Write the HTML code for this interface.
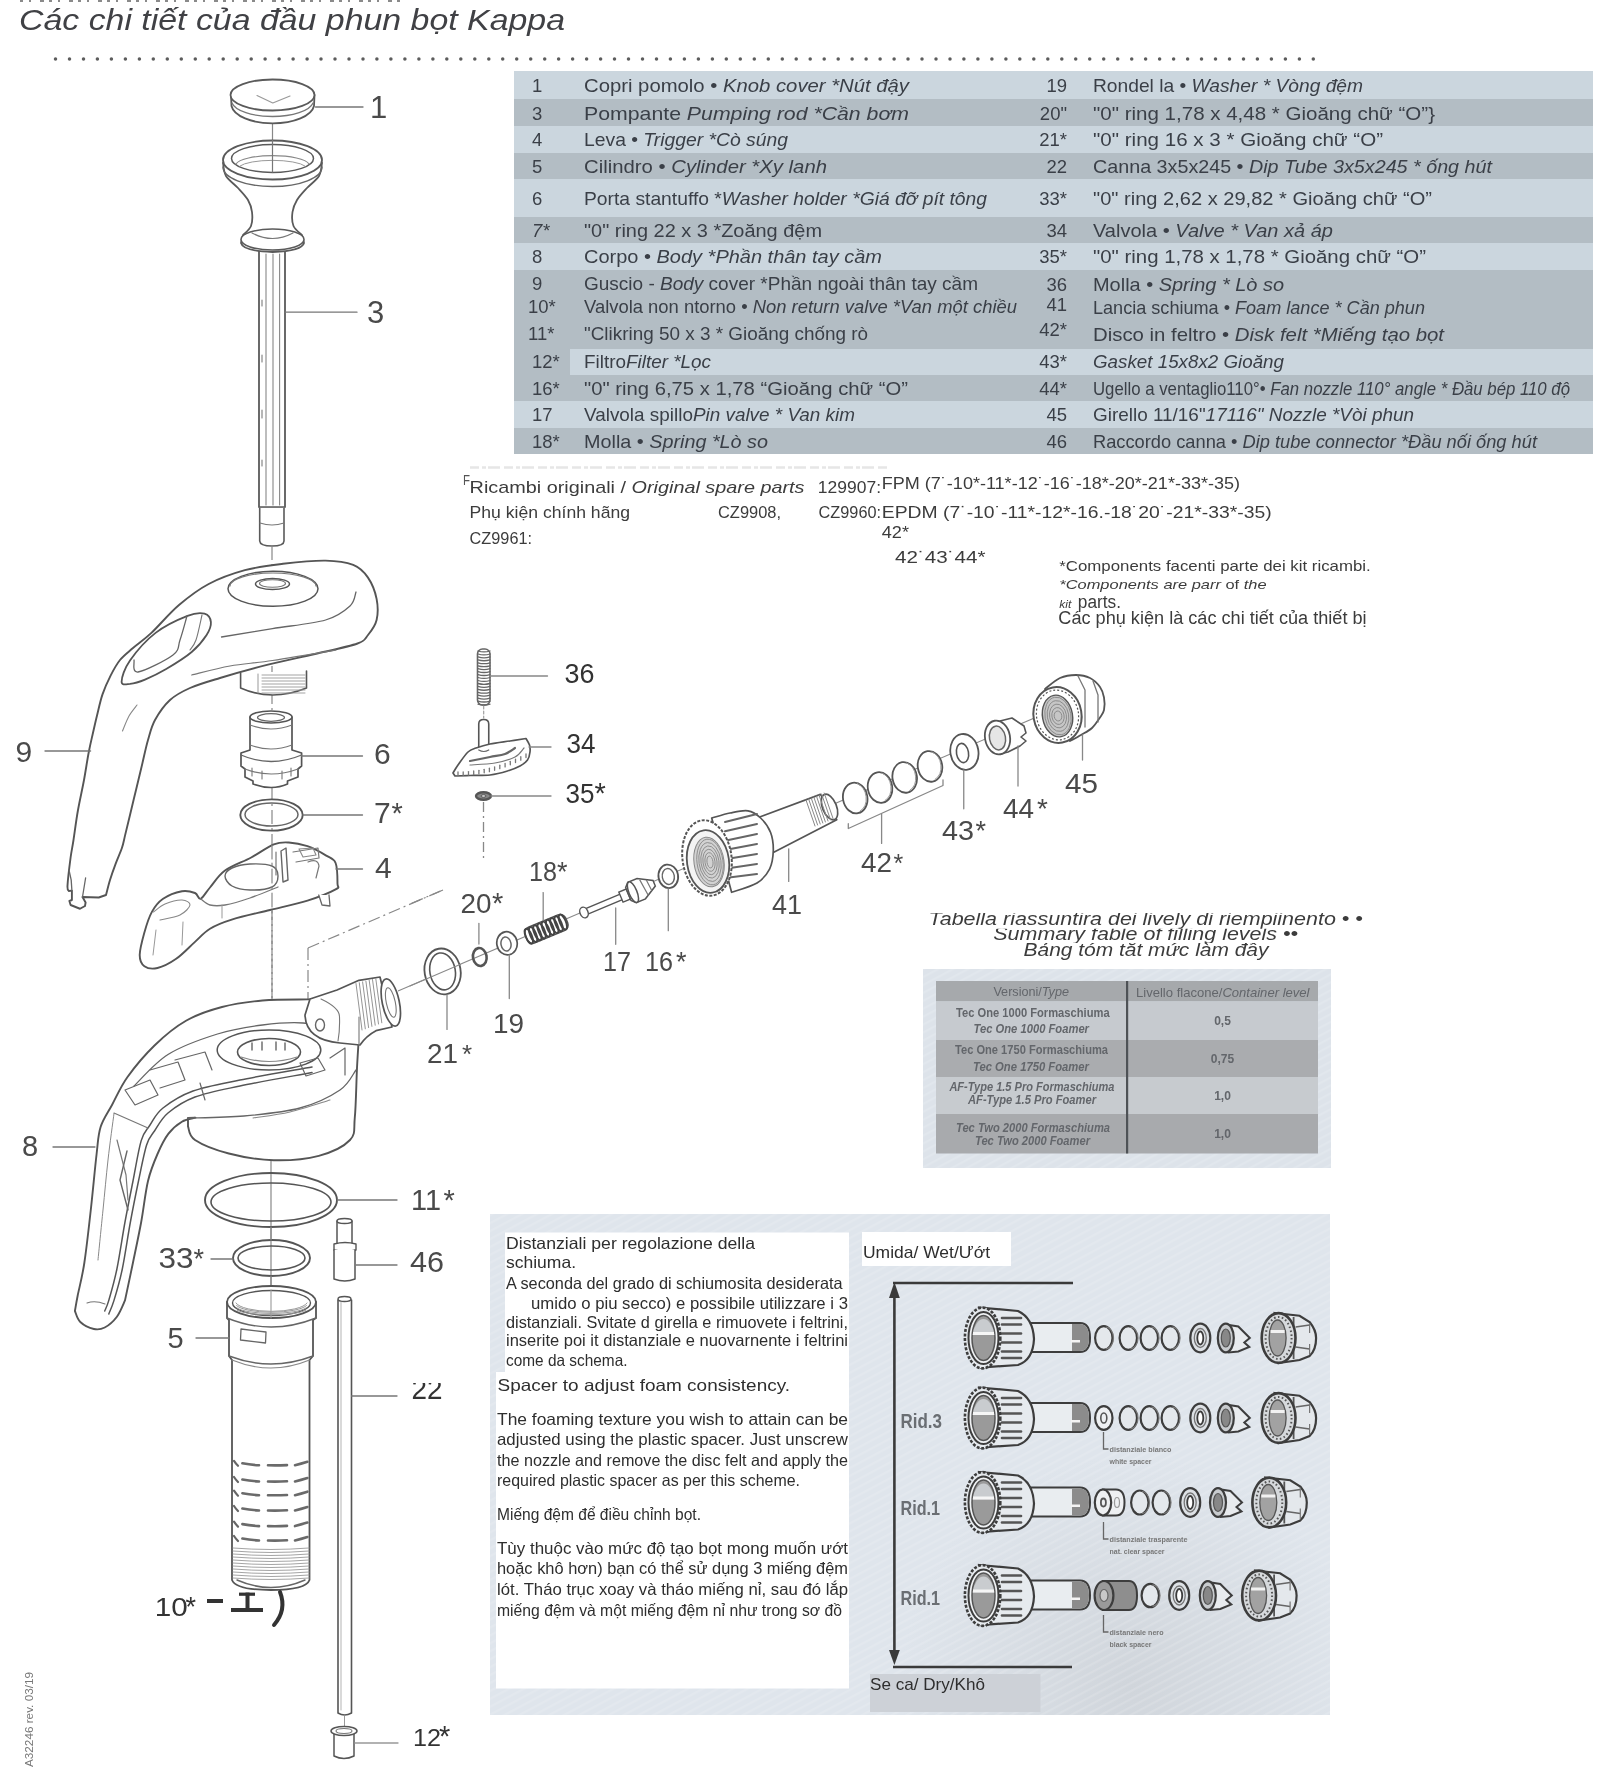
<!DOCTYPE html>
<html><head><meta charset="utf-8"><title>Kappa foam sprayer parts</title>
<style>
html,body{margin:0;padding:0;background:#fff;}
body{width:1600px;height:1772px;overflow:hidden;position:relative;font-family:"Liberation Sans", sans-serif;}
svg{position:absolute;left:0;top:0;will-change:transform;}
svg text{font-family:"Liberation Sans", sans-serif;}
</style></head><body>
<svg width="1600" height="1772" viewBox="0 0 1600 1772">
<text x="19.0" y="29.5" font-size="29.0" fill="#404145" textLength="546.0" lengthAdjust="spacingAndGlyphs"><tspan font-style="italic">Các chi tiết của đầu phun bọt Kappa</tspan></text>
<path d="M20 1 H406" stroke="#8a8a8a" stroke-width="2" stroke-dasharray="3 6 2 9 4 5"/>
<g fill="#5c5c5c"><circle cx="55.5" cy="59" r="1.75"/><circle cx="69.5" cy="59" r="1.75"/><circle cx="83.5" cy="59" r="1.75"/><circle cx="97.4" cy="59" r="1.75"/><circle cx="111.4" cy="59" r="1.75"/><circle cx="125.4" cy="59" r="1.75"/><circle cx="139.4" cy="59" r="1.75"/><circle cx="153.3" cy="59" r="1.75"/><circle cx="167.3" cy="59" r="1.75"/><circle cx="181.3" cy="59" r="1.75"/><circle cx="195.3" cy="59" r="1.75"/><circle cx="209.2" cy="59" r="1.75"/><circle cx="223.2" cy="59" r="1.75"/><circle cx="237.2" cy="59" r="1.75"/><circle cx="251.2" cy="59" r="1.75"/><circle cx="265.1" cy="59" r="1.75"/><circle cx="279.1" cy="59" r="1.75"/><circle cx="293.1" cy="59" r="1.75"/><circle cx="307.1" cy="59" r="1.75"/><circle cx="321.0" cy="59" r="1.75"/><circle cx="335.0" cy="59" r="1.75"/><circle cx="349.0" cy="59" r="1.75"/><circle cx="363.0" cy="59" r="1.75"/><circle cx="376.9" cy="59" r="1.75"/><circle cx="390.9" cy="59" r="1.75"/><circle cx="404.9" cy="59" r="1.75"/><circle cx="418.9" cy="59" r="1.75"/><circle cx="432.9" cy="59" r="1.75"/><circle cx="446.8" cy="59" r="1.75"/><circle cx="460.8" cy="59" r="1.75"/><circle cx="474.8" cy="59" r="1.75"/><circle cx="488.8" cy="59" r="1.75"/><circle cx="502.7" cy="59" r="1.75"/><circle cx="516.7" cy="59" r="1.75"/><circle cx="530.7" cy="59" r="1.75"/><circle cx="544.7" cy="59" r="1.75"/><circle cx="558.6" cy="59" r="1.75"/><circle cx="572.6" cy="59" r="1.75"/><circle cx="586.6" cy="59" r="1.75"/><circle cx="600.6" cy="59" r="1.75"/><circle cx="614.5" cy="59" r="1.75"/><circle cx="628.5" cy="59" r="1.75"/><circle cx="642.5" cy="59" r="1.75"/><circle cx="656.5" cy="59" r="1.75"/><circle cx="670.4" cy="59" r="1.75"/><circle cx="684.4" cy="59" r="1.75"/><circle cx="698.4" cy="59" r="1.75"/><circle cx="712.4" cy="59" r="1.75"/><circle cx="726.3" cy="59" r="1.75"/><circle cx="740.3" cy="59" r="1.75"/><circle cx="754.3" cy="59" r="1.75"/><circle cx="768.3" cy="59" r="1.75"/><circle cx="782.3" cy="59" r="1.75"/><circle cx="796.2" cy="59" r="1.75"/><circle cx="810.2" cy="59" r="1.75"/><circle cx="824.2" cy="59" r="1.75"/><circle cx="838.2" cy="59" r="1.75"/><circle cx="852.1" cy="59" r="1.75"/><circle cx="866.1" cy="59" r="1.75"/><circle cx="880.1" cy="59" r="1.75"/><circle cx="894.1" cy="59" r="1.75"/><circle cx="908.0" cy="59" r="1.75"/><circle cx="922.0" cy="59" r="1.75"/><circle cx="936.0" cy="59" r="1.75"/><circle cx="950.0" cy="59" r="1.75"/><circle cx="963.9" cy="59" r="1.75"/><circle cx="977.9" cy="59" r="1.75"/><circle cx="991.9" cy="59" r="1.75"/><circle cx="1005.9" cy="59" r="1.75"/><circle cx="1019.8" cy="59" r="1.75"/><circle cx="1033.8" cy="59" r="1.75"/><circle cx="1047.8" cy="59" r="1.75"/><circle cx="1061.8" cy="59" r="1.75"/><circle cx="1075.7" cy="59" r="1.75"/><circle cx="1089.7" cy="59" r="1.75"/><circle cx="1103.7" cy="59" r="1.75"/><circle cx="1117.7" cy="59" r="1.75"/><circle cx="1131.7" cy="59" r="1.75"/><circle cx="1145.6" cy="59" r="1.75"/><circle cx="1159.6" cy="59" r="1.75"/><circle cx="1173.6" cy="59" r="1.75"/><circle cx="1187.6" cy="59" r="1.75"/><circle cx="1201.5" cy="59" r="1.75"/><circle cx="1215.5" cy="59" r="1.75"/><circle cx="1229.5" cy="59" r="1.75"/><circle cx="1243.5" cy="59" r="1.75"/><circle cx="1257.4" cy="59" r="1.75"/><circle cx="1271.4" cy="59" r="1.75"/><circle cx="1285.4" cy="59" r="1.75"/><circle cx="1299.4" cy="59" r="1.75"/><circle cx="1313.3" cy="59" r="1.75"/></g>
<rect x="514" y="71" width="1079" height="28" fill="#cbd6de"/>
<rect x="514" y="99" width="1079" height="27" fill="#b3bdc4"/>
<rect x="514" y="126" width="1079" height="27" fill="#cbd6de"/>
<rect x="514" y="153" width="1079" height="26" fill="#b3bdc4"/>
<rect x="514" y="179" width="1079" height="38" fill="#cbd6de"/>
<rect x="514" y="217" width="1079" height="26" fill="#b3bdc4"/>
<rect x="514" y="243" width="1079" height="27" fill="#cbd6de"/>
<rect x="514" y="270" width="1079" height="79" fill="#b3bdc4"/>
<rect x="514" y="349" width="1079" height="26" fill="#cbd6de"/>
<rect x="514" y="375" width="1079" height="26" fill="#b3bdc4"/>
<rect x="514" y="401" width="1079" height="27" fill="#cbd6de"/>
<rect x="514" y="428" width="1079" height="26" fill="#b3bdc4"/>
<rect x="514" y="349" width="56" height="26" fill="#b3bdc4"/>
<text x="532.0" y="92.0" font-size="18.5" fill="#3a3f47">1</text>
<text x="584.0" y="92.0" font-size="18.5" fill="#3a3f47" textLength="325.0" lengthAdjust="spacingAndGlyphs">Copri pomolo • <tspan font-style="italic">Knob cover *Nút đậy</tspan></text>
<text x="532.0" y="119.5" font-size="18.5" fill="#3a3f47">3</text>
<text x="584.0" y="119.5" font-size="18.5" fill="#3a3f47" textLength="325.0" lengthAdjust="spacingAndGlyphs">Pompante <tspan font-style="italic">Pumping rod *Cần bơm</tspan></text>
<text x="532.0" y="146.0" font-size="18.5" fill="#3a3f47">4</text>
<text x="584.0" y="146.0" font-size="18.5" fill="#3a3f47" textLength="204.0" lengthAdjust="spacingAndGlyphs">Leva • <tspan font-style="italic">Trigger *Cò súng</tspan></text>
<text x="532.0" y="172.5" font-size="18.5" fill="#3a3f47">5</text>
<text x="584.0" y="172.5" font-size="18.5" fill="#3a3f47" textLength="243.0" lengthAdjust="spacingAndGlyphs">Cilindro • <tspan font-style="italic">Cylinder *Xy lanh</tspan></text>
<text x="532.0" y="205.0" font-size="18.5" fill="#3a3f47">6</text>
<text x="584.0" y="205.0" font-size="18.5" fill="#3a3f47" textLength="403.0" lengthAdjust="spacingAndGlyphs">Porta stantuffo *<tspan font-style="italic">Washer holder *Giá đỡ pít tông</tspan></text>
<text x="532.0" y="236.6" font-size="18.5" fill="#3a3f47"><tspan font-style="italic">7*</tspan></text>
<text x="584.0" y="236.6" font-size="18.5" fill="#3a3f47" textLength="238.0" lengthAdjust="spacingAndGlyphs">"0" ring 22 x 3 *Zoăng đệm</text>
<text x="532.0" y="263.3" font-size="18.5" fill="#3a3f47">8</text>
<text x="584.0" y="263.3" font-size="18.5" fill="#3a3f47" textLength="298.0" lengthAdjust="spacingAndGlyphs">Corpo • <tspan font-style="italic">Body *Phần thân tay cầm</tspan></text>
<text x="532.0" y="289.5" font-size="18.5" fill="#3a3f47">9</text>
<text x="584.0" y="289.5" font-size="18.5" fill="#3a3f47" textLength="394.0" lengthAdjust="spacingAndGlyphs">Guscio - <tspan font-style="italic">Body</tspan> cover *Phần ngoài thân tay cầm</text>
<text x="528.0" y="313.0" font-size="18.5" fill="#3a3f47">10*</text>
<text x="584.0" y="313.0" font-size="18.5" fill="#3a3f47" textLength="433.0" lengthAdjust="spacingAndGlyphs">Valvola non ntorno • <tspan font-style="italic">Non return valve *Van một chiều</tspan></text>
<text x="528.0" y="339.5" font-size="18.5" fill="#3a3f47">11*</text>
<text x="584.0" y="339.5" font-size="18.5" fill="#3a3f47" textLength="284.0" lengthAdjust="spacingAndGlyphs">"Clikring 50 x 3 * Gioăng chống rò</text>
<text x="532.0" y="368.0" font-size="18.5" fill="#3a3f47">12*</text>
<text x="584.0" y="368.0" font-size="18.5" fill="#3a3f47" textLength="127.0" lengthAdjust="spacingAndGlyphs">Filtro<tspan font-style="italic">Filter *Lọc</tspan></text>
<text x="532.0" y="395.3" font-size="18.5" fill="#3a3f47">16*</text>
<text x="584.0" y="395.3" font-size="18.5" fill="#3a3f47" textLength="324.0" lengthAdjust="spacingAndGlyphs">"0" ring 6,75 x 1,78 “Gioăng chữ “O”</text>
<text x="532.0" y="421.0" font-size="18.5" fill="#3a3f47">17</text>
<text x="584.0" y="421.0" font-size="18.5" fill="#3a3f47" textLength="271.0" lengthAdjust="spacingAndGlyphs">Valvola spillo<tspan font-style="italic">Pin valve * Van kim</tspan></text>
<text x="532.0" y="448.0" font-size="18.5" fill="#3a3f47">18*</text>
<text x="584.0" y="448.0" font-size="18.5" fill="#3a3f47" textLength="184.0" lengthAdjust="spacingAndGlyphs">Molla • <tspan font-style="italic">Spring *Lò so</tspan></text>
<text x="1067.0" y="92.0" font-size="18.5" fill="#3a3f47" text-anchor="end">19</text>
<text x="1093.0" y="92.0" font-size="18.5" fill="#3a3f47" textLength="270.0" lengthAdjust="spacingAndGlyphs">Rondel la • <tspan font-style="italic">Washer * Vòng đệm</tspan></text>
<text x="1067.0" y="119.5" font-size="18.5" fill="#3a3f47" text-anchor="end">20"</text>
<text x="1093.0" y="119.5" font-size="18.5" fill="#3a3f47" textLength="342.0" lengthAdjust="spacingAndGlyphs">"0" ring 1,78 x 4,48 * Gioăng chữ “O”}</text>
<text x="1067.0" y="146.0" font-size="18.5" fill="#3a3f47" text-anchor="end">21*</text>
<text x="1093.0" y="146.0" font-size="18.5" fill="#3a3f47" textLength="290.0" lengthAdjust="spacingAndGlyphs">"0" ring 16 x 3 * Gioăng chữ “O”</text>
<text x="1067.0" y="172.5" font-size="18.5" fill="#3a3f47" text-anchor="end">22</text>
<text x="1093.0" y="172.5" font-size="18.5" fill="#3a3f47" textLength="399.0" lengthAdjust="spacingAndGlyphs">Canna 3x5x245 • <tspan font-style="italic">Dip Tube 3x5x245 * ống hút</tspan></text>
<text x="1067.0" y="205.0" font-size="18.5" fill="#3a3f47" text-anchor="end">33*</text>
<text x="1093.0" y="205.0" font-size="18.5" fill="#3a3f47" textLength="339.0" lengthAdjust="spacingAndGlyphs">"0" ring 2,62 x 29,82 * Gioăng chữ “O”</text>
<text x="1067.0" y="236.6" font-size="18.5" fill="#3a3f47" text-anchor="end">34</text>
<text x="1093.0" y="236.6" font-size="18.5" fill="#3a3f47" textLength="240.0" lengthAdjust="spacingAndGlyphs">Valvola • <tspan font-style="italic">Valve * Van xả áp</tspan></text>
<text x="1067.0" y="263.3" font-size="18.5" fill="#3a3f47" text-anchor="end">35*</text>
<text x="1093.0" y="263.3" font-size="18.5" fill="#3a3f47" textLength="333.0" lengthAdjust="spacingAndGlyphs">"0" ring 1,78 x 1,78 * Gioăng chữ “O”</text>
<text x="1067.0" y="290.5" font-size="18.5" fill="#3a3f47" text-anchor="end">36</text>
<text x="1093.0" y="290.5" font-size="18.5" fill="#3a3f47" textLength="191.0" lengthAdjust="spacingAndGlyphs">Molla • <tspan font-style="italic">Spring * Lò so</tspan></text>
<text x="1067.0" y="311.0" font-size="18.5" fill="#3a3f47" text-anchor="end">41</text>
<text x="1093.0" y="313.9" font-size="18.5" fill="#3a3f47" textLength="332.0" lengthAdjust="spacingAndGlyphs">Lancia schiuma • <tspan font-style="italic">Foam lance * Cần phun</tspan></text>
<text x="1067.0" y="335.6" font-size="18.5" fill="#3a3f47" text-anchor="end">42*</text>
<text x="1093.0" y="340.5" font-size="18.5" fill="#3a3f47" textLength="351.0" lengthAdjust="spacingAndGlyphs">Disco in feltro • <tspan font-style="italic">Disk felt *Miếng tạo bọt</tspan></text>
<text x="1067.0" y="368.0" font-size="18.5" fill="#3a3f47" text-anchor="end">43*</text>
<text x="1093.0" y="368.0" font-size="18.5" fill="#3a3f47" textLength="191.0" lengthAdjust="spacingAndGlyphs"><tspan font-style="italic">Gasket 15x8x2 Gioăng</tspan></text>
<text x="1067.0" y="395.3" font-size="18.5" fill="#3a3f47" text-anchor="end">44*</text>
<text x="1093.0" y="395.3" font-size="18.5" fill="#3a3f47" textLength="477.0" lengthAdjust="spacingAndGlyphs">Ugello a ventaglio110°• <tspan font-style="italic">Fan nozzle 110° angle * Đầu bép 110 độ</tspan></text>
<text x="1067.0" y="421.0" font-size="18.5" fill="#3a3f47" text-anchor="end">45</text>
<text x="1093.0" y="421.0" font-size="18.5" fill="#3a3f47" textLength="321.0" lengthAdjust="spacingAndGlyphs">Girello 11/16"<tspan font-style="italic">17116" Nozzle *Vòi phun</tspan></text>
<text x="1067.0" y="448.0" font-size="18.5" fill="#3a3f47" text-anchor="end">46</text>
<text x="1093.0" y="448.0" font-size="18.5" fill="#3a3f47" textLength="444.0" lengthAdjust="spacingAndGlyphs">Raccordo canna • <tspan font-style="italic">Dip tube connector *Đầu nối ống hút</tspan></text>
<path d="M272.5 112 V140" stroke="#888" stroke-width="1.2"/>
<path d="M231 95 L231.5 106 A41.5 19.5 0 0 0 314 106 L314.5 95" stroke="#5a5a5a" stroke-width="1.80" fill="#fff" stroke-linecap="round" stroke-linejoin="round"/>
<ellipse cx="272.5" cy="95.0" rx="42.0" ry="15.5" stroke="#5a5a5a" stroke-width="1.80" fill="#fff"/>
<path d="M232 103 A41 16 0 0 0 313 103" stroke="#777" stroke-width="1.30" fill="none" stroke-linecap="round" stroke-linejoin="round"/>
<path d="M257 95.5 L272.8 103 L290 96" stroke="#999" stroke-width="1.20" fill="none" stroke-linecap="round" stroke-linejoin="round"/>
<path d="M315.5 107 H363" stroke="#777" stroke-width="1.30" fill="none" stroke-linecap="round" stroke-linejoin="round"/>
<text x="370.0" y="117.5" font-size="31.0" fill="#4a4a4a">1</text>
<path d="M259 250 V507 M285 250 V507" stroke="#5a5a5a" stroke-width="1.80" fill="none" stroke-linecap="round" stroke-linejoin="round"/>
<path d="M266 254 V505 M273 254 V505 M279.6 254 V505" stroke="#888" stroke-width="1.10" fill="none" stroke-linecap="round" stroke-linejoin="round"/>
<path d="M262 300 V306 M262 355 V362 M262 410 V418 M262 460 V466" stroke="#888" stroke-width="1.20" fill="none" stroke-linecap="round" stroke-linejoin="round"/>
<path d="M259.7 507 V541 Q260 546 272 546 Q284 546 284 541 V507 Z" stroke="#5a5a5a" stroke-width="1.60" fill="#fff" stroke-linecap="round" stroke-linejoin="round"/>
<path d="M260 523 Q272 527 284 523" stroke="#777" stroke-width="1.20" fill="none" stroke-linecap="round" stroke-linejoin="round"/>
<path d="M260 507.5 H284" stroke="#777" stroke-width="1.20" fill="none" stroke-linecap="round" stroke-linejoin="round"/>
<path d="M285 312.2 H357" stroke="#777" stroke-width="1.30" fill="none" stroke-linecap="round" stroke-linejoin="round"/>
<text x="367.0" y="323.0" font-size="31.0" fill="#4a4a4a">3</text>
<path d="M223.0 163.0 C223.5 165.2 223.5 171.8 226.0 176.0 C228.5 180.2 234.3 184.0 238.0 188.0 C241.7 192.0 245.7 196.0 248.0 200.0 C250.3 204.0 251.5 207.7 252.0 212.0 C252.5 216.3 252.5 222.2 251.0 226.0 C249.5 229.8 244.3 233.5 243.0 235.0 L241 243 Q243 251 272.5 252 Q302 251 304 243 L302 235 302.0 235.0 C300.6 233.5 295.1 229.8 293.5 226.0 C291.9 222.2 291.9 216.3 292.5 212.0 C293.1 207.7 294.6 204.0 297.0 200.0 C299.4 196.0 303.3 192.0 307.0 188.0 C310.7 184.0 316.5 180.2 319.0 176.0 C321.5 171.8 321.5 165.2 322.0 163.0" stroke="#5a5a5a" stroke-width="1.80" fill="#fff" stroke-linecap="round" stroke-linejoin="round"/>
<ellipse cx="272.5" cy="239.5" rx="31.5" ry="10.5" stroke="#5a5a5a" stroke-width="1.60" fill="#fff"/>
<path d="M252 233 Q272.5 244 293 233" stroke="#777" stroke-width="1.20" fill="none" stroke-linecap="round" stroke-linejoin="round"/>
<ellipse cx="272.5" cy="160.0" rx="49.5" ry="19.5" stroke="#5a5a5a" stroke-width="1.80" fill="#fff"/>
<path d="M223 167 A49.5 19.5 0 0 0 322 167" stroke="#666" stroke-width="1.40" fill="none" stroke-linecap="round" stroke-linejoin="round"/>
<ellipse cx="272.5" cy="158.5" rx="41.0" ry="14.0" stroke="#5a5a5a" stroke-width="1.50" fill="#fff"/>
<path d="M236 164 A37 10 0 0 1 309 164" stroke="#888" stroke-width="1.10" fill="none" stroke-linecap="round" stroke-linejoin="round"/>
<path d="M240 166 A34 8 0 0 1 305 166" stroke="#999" stroke-width="1.00" fill="none" stroke-linecap="round" stroke-linejoin="round"/>
<path d="M272.5 140 V172" stroke="#777" stroke-width="1.20" fill="none" stroke-linecap="round" stroke-linejoin="round"/>
<path d="M272 546 V1000" stroke="#888" stroke-width="1.2" stroke-dasharray="14 4 2 4"/>
<path d="M106.0 895.0 C106.7 892.5 108.4 885.2 110.0 880.0 C111.6 874.8 113.6 869.1 115.6 863.8 C117.6 858.4 120.3 852.7 121.9 848.0 C123.5 843.3 123.7 841.1 125.0 835.6 C126.3 830.1 128.2 822.6 130.0 815.0 C131.8 807.4 134.0 798.3 136.0 790.0 C138.0 781.7 140.0 773.3 142.0 765.0 C144.0 756.7 145.8 747.5 148.0 740.0 C150.2 732.5 151.3 726.7 155.0 720.0 C158.7 713.3 164.2 705.3 170.0 700.0 C175.8 694.7 181.7 691.7 190.0 688.0 C198.3 684.3 207.0 681.9 220.0 678.0 C233.0 674.1 252.2 668.7 268.0 664.7 C283.8 660.7 300.1 657.5 315.0 654.0 C329.9 650.5 348.7 646.7 357.5 643.5 C366.3 640.3 364.8 638.9 368.0 635.0 C371.2 631.1 375.2 626.0 376.6 620.0 C378.0 614.0 378.0 606.0 376.6 598.9 C375.2 591.8 371.9 583.3 368.0 577.6 C364.1 571.9 360.3 567.7 353.2 564.9 C346.1 562.1 337.3 560.8 325.6 560.6 C313.9 560.4 296.4 562.2 283.0 563.8 C269.6 565.4 257.3 566.8 244.9 570.2 C232.5 573.6 219.7 578.2 208.7 584.0 C197.7 589.8 188.6 596.9 179.0 605.0 C169.4 613.1 159.1 625.7 151.4 632.9 C143.7 640.1 138.2 643.5 133.0 648.0 C127.8 652.5 123.7 655.4 120.0 660.0 C116.3 664.6 113.5 669.9 110.6 675.6 C107.7 681.3 104.8 687.7 102.5 694.4 C100.2 701.1 98.6 709.2 96.9 716.0 C95.2 722.8 93.9 729.0 92.5 735.0 C91.1 741.0 90.2 744.5 88.8 752.0 C87.3 759.5 85.8 770.3 84.0 780.0 C82.2 789.7 79.8 800.0 78.0 810.0 C76.2 820.0 74.7 832.1 73.5 840.0 C72.3 847.9 71.6 849.9 70.6 857.5 C69.6 865.1 67.8 880.0 67.5 885.6 C67.2 891.2 68.5 890.1 68.8 891.0 L71.9 890.6 L71.9 900 L69.4 901 L70.6 905 L80 908.75 L85 906 L85.6 902.5 L82.5 897 L98.75 897.5 Z" stroke="#555" stroke-width="1.90" fill="#fff" stroke-linecap="round" stroke-linejoin="round"/>
<path d="M122.5 731.0 C123.6 728.5 126.6 720.3 129.0 716.0 C131.4 711.7 135.7 706.8 137.0 705.0" stroke="#888" stroke-width="1.10" fill="none" stroke-linecap="round" stroke-linejoin="round"/>
<path d="M69 870 Q72 880 71.9 890.6 M85.6 878 L82.5 897" stroke="#666" stroke-width="1.30" fill="none" stroke-linecap="round" stroke-linejoin="round"/>
<path d="M221.5 637.0 C230.0 635.6 255.2 631.4 272.5 628.6 C289.9 625.8 312.7 623.8 325.6 620.0 C338.5 616.2 344.9 610.7 350.0 606.0 C355.1 601.3 355.0 594.3 356.0 592.0" stroke="#666" stroke-width="1.30" fill="none" stroke-linecap="round" stroke-linejoin="round"/>
<path d="M191.7 675.0 C198.1 673.5 216.5 668.4 230.0 666.0 C243.5 663.6 254.8 663.2 272.5 660.5 C290.2 657.8 325.4 651.8 336.0 650.0" stroke="#777" stroke-width="1.20" fill="none" stroke-linecap="round" stroke-linejoin="round"/>
<ellipse cx="273.0" cy="588.8" rx="45.0" ry="17.5" stroke="#555" stroke-width="1.50" fill="none"/>
<path d="M230 586 A43 13 0 0 1 316 586" stroke="#777" stroke-width="1.20" fill="none" stroke-linecap="round" stroke-linejoin="round"/>
<ellipse cx="272.5" cy="584.0" rx="17.0" ry="5.5" stroke="#555" stroke-width="1.50" fill="none"/>
<ellipse cx="272.5" cy="583.5" rx="13.0" ry="3.8" stroke="#777" stroke-width="1.10" fill="none"/>
<path d="M121.6 681.7 C121.6 677.8 124.3 668.6 130.0 660.5 C135.7 652.4 146.0 640.3 155.6 632.9 C165.2 625.5 179.3 619.1 187.5 615.9 C195.7 612.7 200.6 612.7 204.5 613.7 C208.4 614.8 210.6 618.7 210.9 622.2 C211.2 625.8 209.8 630.0 206.6 635.0 C203.4 640.0 198.4 646.3 191.7 652.0 C185.0 657.7 174.0 664.4 166.2 669.0 C158.4 673.6 151.0 677.1 145.0 679.6 C139.0 682.1 133.9 683.5 130.0 683.9 C126.1 684.2 121.6 685.6 121.6 681.7Z" stroke="#555" stroke-width="1.80" fill="#fff" stroke-linecap="round" stroke-linejoin="round"/>
<path d="M187.0 616.0 C185.8 620.0 182.3 633.5 180.0 640.0 C177.7 646.5 180.0 649.7 173.0 655.0 C166.0 660.3 144.5 671.2 138.0 672.0 C131.5 672.8 134.7 662.0 134.0 660.0" stroke="#666" stroke-width="1.30" fill="none" stroke-linecap="round" stroke-linejoin="round"/>
<path d="M202.0 615.0 C201.0 619.2 198.0 634.2 196.0 640.0 C194.0 645.8 191.0 648.3 190.0 650.0" stroke="#777" stroke-width="1.10" fill="none" stroke-linecap="round" stroke-linejoin="round"/>
<path d="M240.6 673 V688 Q272 702 306.5 688 V671" stroke="#555" stroke-width="1.60" fill="#fff" stroke-linecap="round" stroke-linejoin="round"/>
<path d="M262 675 H305" stroke="#999" stroke-width="0.90" fill="none" stroke-linecap="round" stroke-linejoin="round"/>
<path d="M262 678 H305" stroke="#999" stroke-width="0.90" fill="none" stroke-linecap="round" stroke-linejoin="round"/>
<path d="M262 681 H305" stroke="#999" stroke-width="0.90" fill="none" stroke-linecap="round" stroke-linejoin="round"/>
<path d="M262 684 H305" stroke="#999" stroke-width="0.90" fill="none" stroke-linecap="round" stroke-linejoin="round"/>
<path d="M262 687 H305" stroke="#999" stroke-width="0.90" fill="none" stroke-linecap="round" stroke-linejoin="round"/>
<path d="M262 690 H305" stroke="#999" stroke-width="0.90" fill="none" stroke-linecap="round" stroke-linejoin="round"/>
<path d="M262 693 H305" stroke="#999" stroke-width="0.90" fill="none" stroke-linecap="round" stroke-linejoin="round"/>
<path d="M258 674 V693" stroke="#999" stroke-width="1.00" fill="none" stroke-linecap="round" stroke-linejoin="round"/>
<path d="M45 751 H90.6" stroke="#777" stroke-width="1.30" fill="none" stroke-linecap="round" stroke-linejoin="round"/>
<text x="15.5" y="762.0" font-size="30.0" fill="#4a4a4a">9</text>
<path d="M250 717 V750 L241 753 V766 L245 769 V777 L253 781 V784 Q272 791 287.5 784 V781 L298 777 V769 L301.6 766 V753 L292 750 V717 Z" stroke="#555" stroke-width="1.70" fill="#fff" stroke-linecap="round" stroke-linejoin="round"/>
<ellipse cx="271.0" cy="717.0" rx="21.0" ry="6.0" stroke="#555" stroke-width="1.60" fill="#fff"/>
<ellipse cx="271.0" cy="717.5" rx="13.5" ry="3.8" stroke="#666" stroke-width="1.20" fill="none"/>
<path d="M250 725 Q271 733 292 725" stroke="#777" stroke-width="1.20" fill="none" stroke-linecap="round" stroke-linejoin="round"/>
<path d="M250 745 Q271 753 292 745" stroke="#777" stroke-width="1.20" fill="none" stroke-linecap="round" stroke-linejoin="round"/>
<path d="M241 755 Q271 768 301.6 755" stroke="#666" stroke-width="1.30" fill="none" stroke-linecap="round" stroke-linejoin="round"/>
<path d="M245 769 Q271 779 298 769" stroke="#777" stroke-width="1.20" fill="none" stroke-linecap="round" stroke-linejoin="round"/>
<path d="M252 768 V776 M262 771 V779 M282 771 V779 M291 768 V776" stroke="#777" stroke-width="1.10" fill="none" stroke-linecap="round" stroke-linejoin="round"/>
<path d="M301.6 756 H362.5" stroke="#777" stroke-width="1.30" fill="none" stroke-linecap="round" stroke-linejoin="round"/>
<text x="374.0" y="764.0" font-size="30.0" fill="#4a4a4a">6</text>
<ellipse cx="271.5" cy="815.0" rx="31.2" ry="15.6" stroke="#555" stroke-width="1.90" fill="none"/>
<ellipse cx="271.5" cy="814.5" rx="26.5" ry="11.5" stroke="#666" stroke-width="1.50" fill="none"/>
<path d="M303 815 H362.5" stroke="#777" stroke-width="1.30" fill="none" stroke-linecap="round" stroke-linejoin="round"/>
<text x="374.0" y="823.0" font-size="30.0" fill="#4a4a4a">7</text>
<text x="391.5" y="823.0" font-size="29.0" fill="#4a4a4a">*</text>
<path d="M139.7 955.0 C139.7 949.4 142.4 939.7 144.4 932.5 C146.4 925.3 148.8 917.5 151.9 911.9 C155.0 906.3 158.1 902.2 163.1 898.8 C168.1 895.3 176.6 892.2 181.9 891.2 C187.2 890.3 191.9 891.8 195.0 893.0 C198.1 894.2 198.1 899.7 200.6 898.8 C203.1 897.8 205.9 892.2 210.0 887.5 C214.1 882.8 218.1 875.6 225.0 870.6 C231.9 865.6 243.1 861.9 251.2 857.5 C259.4 853.1 267.5 846.9 273.8 844.4 C280.0 841.9 283.1 842.2 288.8 842.5 C294.4 842.8 301.2 844.1 307.5 846.2 C313.8 848.4 321.6 852.8 326.2 855.6 C330.9 858.4 333.7 858.3 335.6 863.0 C337.5 867.7 337.5 879.4 337.5 883.8 C337.5 888.1 340.6 886.6 335.6 889.4 C330.6 892.2 318.4 897.2 307.5 900.6 C296.6 904.0 282.5 906.9 270.0 910.0 C257.5 913.1 242.5 916.3 232.5 919.4 C222.5 922.5 216.2 925.0 210.0 928.8 C203.8 932.5 200.6 936.9 195.0 941.9 C189.4 946.9 182.5 954.4 176.2 958.8 C170.0 963.1 162.8 966.8 157.5 968.0 C152.2 969.2 147.4 968.4 144.4 966.2 C141.4 964.1 139.7 960.6 139.7 955.0Z" stroke="#555" stroke-width="1.90" fill="#fff" stroke-linecap="round" stroke-linejoin="round"/>
<path d="M225.0 876.0 C225.0 873.0 227.8 870.0 232.0 868.0 C236.2 866.0 243.3 864.3 250.0 864.0 C256.7 863.7 267.3 864.0 272.0 866.0 C276.7 868.0 278.0 872.5 278.0 876.0 C278.0 879.5 276.7 884.7 272.0 887.0 C267.3 889.3 256.7 890.2 250.0 890.0 C243.3 889.8 236.2 888.3 232.0 886.0 C227.8 883.7 225.0 879.0 225.0 876.0Z" stroke="#666" stroke-width="1.40" fill="none" stroke-linecap="round" stroke-linejoin="round"/>
<path d="M200.6 898.8 C202.2 899.8 205.9 904.0 210.0 905.0 C214.1 906.0 218.3 906.2 225.0 905.0 C231.7 903.8 241.2 901.0 250.0 898.0 C258.8 895.0 273.3 888.8 278.0 887.0" stroke="#777" stroke-width="1.30" fill="none" stroke-linecap="round" stroke-linejoin="round"/>
<path d="M153.5 912.0 C155.4 910.7 160.2 906.0 165.0 904.0 C169.8 902.0 177.8 899.8 182.0 900.0 C186.2 900.2 190.3 902.5 190.0 905.0 C189.7 907.5 185.0 912.5 180.0 915.0 C175.0 917.5 163.3 919.2 160.0 920.0" stroke="#888" stroke-width="1.10" fill="none" stroke-linecap="round" stroke-linejoin="round"/>
<path d="M156 930 L153 955 M183 922 L182 945 M222 905 V918" stroke="#999" stroke-width="1.00" fill="none" stroke-linecap="round" stroke-linejoin="round"/>
<path d="M281 851 L286 848 L288 880 L283 882 Z" stroke="#666" stroke-width="1.40" fill="#fff" stroke-linecap="round" stroke-linejoin="round"/>
<path d="M276 852 V875 M293 852 L318 848 L319 858 L296 862" stroke="#777" stroke-width="1.20" fill="none" stroke-linecap="round" stroke-linejoin="round"/>
<path d="M308 862 Q318 858 319 866 L316 878" stroke="#777" stroke-width="1.20" fill="none" stroke-linecap="round" stroke-linejoin="round"/>
<path d="M299 849 L313 848 L316 855 L303 857 Z" stroke="#888" stroke-width="1.10" fill="none" stroke-linecap="round" stroke-linejoin="round"/>
<path d="M318.75 895 L322 905 L330 906 L329 895" stroke="#666" stroke-width="1.30" fill="#fff" stroke-linecap="round" stroke-linejoin="round"/>
<path d="M272 845 V1000" stroke="#888" stroke-width="1.20" fill="none" stroke-linecap="round" stroke-linejoin="round" stroke-dasharray="14 4 2 4"/>
<path d="M336 869 H362.5" stroke="#777" stroke-width="1.30" fill="none" stroke-linecap="round" stroke-linejoin="round"/>
<text x="375.0" y="878.0" font-size="30.0" fill="#4a4a4a">4</text>
<path d="M271 1000 V1300" stroke="#888" stroke-width="1.2"/>
<path d="M308 948 V1025" stroke="#888" stroke-width="1.2" stroke-dasharray="12 4 2 4"/>
<path d="M308 948 L443 890" stroke="#888" stroke-width="1.2" stroke-dasharray="12 4 2 4"/>
<path d="M125.0 1300.4 C126.3 1294.1 130.3 1275.6 133.0 1262.5 C135.7 1249.4 138.7 1235.6 141.2 1222.0 C143.7 1208.4 145.3 1192.3 148.0 1181.0 C150.7 1169.7 154.1 1161.8 157.5 1154.0 C160.9 1146.2 164.2 1139.3 168.3 1133.9 C172.4 1128.5 177.4 1124.4 181.9 1121.7 C186.4 1119.0 193.2 1118.3 195.4 1117.6 L188 1118 L188.0 1126.5 C189.2 1128.8 188.2 1135.5 195.0 1140.0 C201.8 1144.5 215.6 1150.1 228.8 1153.5 C241.9 1156.9 258.7 1159.9 273.8 1160.2 C288.8 1160.6 306.1 1159.1 318.8 1155.8 C331.5 1152.4 344.0 1146.4 350.0 1140.0 C356.0 1133.6 353.6 1129.5 354.8 1117.5 C356.0 1105.5 356.3 1081.8 357.0 1068.0 C357.7 1054.2 358.7 1040.5 359.0 1035.0 L359.0 1030.0 C356.7 1025.0 353.6 1005.1 345.0 1000.0 C336.4 994.9 321.2 999.3 307.5 999.4 C293.8 999.5 276.8 999.2 262.5 1000.5 C248.2 1001.8 234.8 1003.6 222.0 1007.0 C209.2 1010.4 197.2 1014.3 186.0 1020.8 C174.8 1027.2 164.2 1036.1 154.5 1045.5 C144.8 1054.9 134.6 1067.1 127.5 1077.0 C120.4 1086.9 116.5 1096.7 112.0 1105.0 C107.5 1113.3 103.2 1118.8 100.6 1127.0 C98.0 1135.2 98.2 1140.5 96.6 1154.0 C95.0 1167.5 93.0 1189.9 91.0 1208.0 C89.0 1226.1 86.6 1247.8 84.4 1262.5 C82.2 1277.2 79.2 1287.9 77.6 1296.0 C76.0 1304.1 75.4 1308.5 74.9 1311.0 L74.9 1311.0 C75.8 1312.8 77.1 1319.0 80.3 1322.0 C83.5 1325.0 89.8 1328.1 93.9 1329.0 C98.0 1329.9 100.9 1329.5 104.7 1327.5 C108.5 1325.5 113.5 1321.2 116.9 1316.7 C120.3 1312.2 123.7 1303.1 125.0 1300.4Z" stroke="#555" stroke-width="1.90" fill="#fff" stroke-linecap="round" stroke-linejoin="round"/>
<path d="M188.0 1118.0 C197.3 1117.7 225.3 1117.7 244.0 1116.0 C262.7 1114.3 284.0 1112.3 300.0 1108.0 C316.0 1103.7 330.7 1096.3 340.0 1090.0 C349.3 1083.7 353.3 1073.3 356.0 1070.0" stroke="#666" stroke-width="1.30" fill="none" stroke-linecap="round" stroke-linejoin="round"/>
<path d="M253.0 1118.0 C259.2 1117.0 277.2 1115.0 290.0 1112.0 C302.8 1109.0 323.3 1102.0 330.0 1100.0" stroke="#888" stroke-width="1.10" fill="none" stroke-linecap="round" stroke-linejoin="round"/>
<path d="M134.0 1086.0 C139.7 1080.8 154.1 1063.2 168.0 1054.5 C181.9 1045.8 201.8 1038.9 217.5 1034.0 C233.2 1029.1 248.2 1026.8 262.5 1025.0 C276.8 1023.2 290.9 1022.2 303.0 1023.0 C315.1 1023.8 329.7 1028.8 335.0 1030.0" stroke="#666" stroke-width="1.30" fill="none" stroke-linecap="round" stroke-linejoin="round"/>
<ellipse cx="269.0" cy="1050.0" rx="51.8" ry="20.0" stroke="#555" stroke-width="1.50" fill="#fff"/>
<ellipse cx="269.0" cy="1052.0" rx="31.5" ry="13.5" stroke="#555" stroke-width="1.60" fill="#fff"/>
<path d="M241 1057 Q269 1066 297 1057" stroke="#888" stroke-width="1.20" fill="none" stroke-linecap="round" stroke-linejoin="round"/>
<path d="M252 1043 V1050 M262 1042 V1050 M276 1042 V1050 M285 1043 V1050" stroke="#666" stroke-width="1.40" fill="none" stroke-linecap="round" stroke-linejoin="round"/>
<path d="M312.0 1072.5 C300.0 1074.8 259.5 1081.9 240.0 1086.0 C220.5 1090.1 207.0 1092.5 195.0 1097.0 C183.0 1101.5 174.8 1107.3 168.0 1113.0 C161.2 1118.7 158.1 1125.7 154.5 1131.0 C150.9 1136.3 149.4 1136.4 146.7 1144.7 C144.0 1153.0 141.2 1168.1 138.5 1181.0 C135.8 1193.9 133.1 1207.3 130.4 1222.0 C127.7 1236.7 125.0 1255.9 122.3 1269.0 C119.6 1282.1 116.3 1292.9 114.0 1300.4 C111.7 1307.9 109.6 1311.7 108.8 1314.0" stroke="#555" stroke-width="1.50" fill="none" stroke-linecap="round" stroke-linejoin="round"/>
<path d="M312.0 1067.0 C300.0 1069.2 259.8 1076.0 240.0 1080.0 C220.2 1084.0 205.8 1086.3 193.0 1091.0 C180.2 1095.7 170.2 1102.3 163.0 1108.0 C155.8 1113.7 153.6 1119.6 150.0 1125.0 C146.4 1130.4 144.0 1131.3 141.2 1140.6 C138.4 1149.9 135.7 1167.4 133.0 1181.0 C130.3 1194.6 127.7 1207.3 125.0 1222.0 C122.3 1236.7 119.6 1255.9 116.9 1269.0 C114.2 1282.1 110.8 1293.4 108.8 1300.4 C106.7 1307.4 105.4 1309.2 104.7 1311.0" stroke="#555" stroke-width="1.50" fill="none" stroke-linecap="round" stroke-linejoin="round"/>
<path d="M114.0 1113.5 C113.0 1121.2 109.8 1143.9 108.0 1160.0 C106.2 1176.1 104.7 1193.3 103.0 1210.0 C101.3 1226.7 98.8 1251.7 98.0 1260.0" stroke="#888" stroke-width="1.00" fill="none" stroke-linecap="round" stroke-linejoin="round"/>
<path d="M114 1113 L148 1128 M117 1140 L126 1175 L128 1200" stroke="#777" stroke-width="1.20" fill="none" stroke-linecap="round" stroke-linejoin="round"/>
<path d="M127 1151 L120 1180 L128 1210" stroke="#666" stroke-width="1.40" fill="none" stroke-linecap="round" stroke-linejoin="round"/>
<path d="M87 1303 Q95 1300 105 1304" stroke="#777" stroke-width="1.10" fill="none" stroke-linecap="round" stroke-linejoin="round"/>
<path d="M125 1090 L150 1080 L158 1095 L135 1105 Z M150 1070 L178 1062 L185 1080 L160 1088" stroke="#666" stroke-width="1.20" fill="none" stroke-linecap="round" stroke-linejoin="round"/>
<path d="M175 1060 L205 1052 L212 1070 M200 1083 L205 1100" stroke="#666" stroke-width="1.20" fill="none" stroke-linecap="round" stroke-linejoin="round"/>
<path d="M300 1063 L318 1058 L325 1070 L306 1076 Z" stroke="#666" stroke-width="1.20" fill="none" stroke-linecap="round" stroke-linejoin="round"/>
<path d="M330 1058 L345 1048 V1075" stroke="#666" stroke-width="1.20" fill="none" stroke-linecap="round" stroke-linejoin="round"/>
<path d="M310 999 L337 990 L359 980.3 L380 977 L392 1027 L376 1030.7 Q366 1036 360 1045 L340 1043 Q306 1040 305 1015 Z" stroke="#555" stroke-width="1.70" fill="#fff" stroke-linecap="round" stroke-linejoin="round"/>
<ellipse cx="390.8" cy="1002.5" rx="8.5" ry="24.0" stroke="#555" stroke-width="1.70" fill="#fff" transform="rotate(-12.0 390.8 1002.5)"/>
<ellipse cx="390.8" cy="1002.5" rx="4.5" ry="15.0" stroke="#777" stroke-width="1.10" fill="none" transform="rotate(-12.0 390.8 1002.5)"/>
<path d="M356.0 983.5 L362.0 1030.0" stroke="#888" stroke-width="0.90" fill="none" stroke-linecap="round" stroke-linejoin="round"/>
<path d="M359.3 982.7 L365.3 1028.8" stroke="#888" stroke-width="0.90" fill="none" stroke-linecap="round" stroke-linejoin="round"/>
<path d="M362.6 981.9 L368.6 1027.6" stroke="#888" stroke-width="0.90" fill="none" stroke-linecap="round" stroke-linejoin="round"/>
<path d="M365.9 981.1 L371.9 1026.4" stroke="#888" stroke-width="0.90" fill="none" stroke-linecap="round" stroke-linejoin="round"/>
<path d="M369.2 980.3 L375.2 1025.2" stroke="#888" stroke-width="0.90" fill="none" stroke-linecap="round" stroke-linejoin="round"/>
<path d="M372.5 979.5 L378.5 1024.0" stroke="#888" stroke-width="0.90" fill="none" stroke-linecap="round" stroke-linejoin="round"/>
<path d="M375.8 978.7 L381.8 1022.8" stroke="#888" stroke-width="0.90" fill="none" stroke-linecap="round" stroke-linejoin="round"/>
<ellipse cx="320.0" cy="1025.0" rx="4.5" ry="6.0" stroke="#666" stroke-width="1.40" fill="none"/>
<path d="M321 999 Q340 1008 339.5 1017 Q340 1030 338 1041 M359 1017 V1045" stroke="#777" stroke-width="1.10" fill="none" stroke-linecap="round" stroke-linejoin="round"/>
<path d="M53 1147 H95" stroke="#777" stroke-width="1.30" fill="none" stroke-linecap="round" stroke-linejoin="round"/>
<text x="22.0" y="1156.0" font-size="29.0" fill="#4a4a4a">8</text>
<ellipse cx="271.0" cy="1200.0" rx="66.0" ry="27.0" stroke="#555" stroke-width="1.90" fill="none"/>
<ellipse cx="271.0" cy="1202.0" rx="60.0" ry="19.0" stroke="#555" stroke-width="1.60" fill="none"/>
<path d="M337.5 1200 H397" stroke="#777" stroke-width="1.30" fill="none" stroke-linecap="round" stroke-linejoin="round"/>
<text x="411.0" y="1210.0" font-size="30.0" fill="#4a4a4a" textLength="30.0" lengthAdjust="spacingAndGlyphs">11</text>
<text x="443.5" y="1210.0" font-size="29.0" fill="#4a4a4a">*</text>
<ellipse cx="271.5" cy="1258.0" rx="38.5" ry="18.0" stroke="#555" stroke-width="1.90" fill="none"/>
<ellipse cx="271.5" cy="1258.0" rx="33.5" ry="12.0" stroke="#555" stroke-width="1.60" fill="none"/>
<path d="M211 1259 H233" stroke="#777" stroke-width="1.30" fill="none" stroke-linecap="round" stroke-linejoin="round"/>
<text x="158.5" y="1268.0" font-size="30.0" fill="#4a4a4a" textLength="35.0" lengthAdjust="spacingAndGlyphs">33</text>
<text x="193.5" y="1268.0" font-size="27.0" fill="#4a4a4a">*</text>
<path d="M271 1227 V1240 M271 1276 V1300" stroke="#888" stroke-width="1.20" fill="none" stroke-linecap="round" stroke-linejoin="round"/>
<path d="M337 1221 V1244 M352 1221 V1244" stroke="#555" stroke-width="1.50" fill="none" stroke-linecap="round" stroke-linejoin="round"/>
<ellipse cx="344.5" cy="1221.0" rx="7.5" ry="2.5" stroke="#555" stroke-width="1.40" fill="#fff"/>
<path d="M334 1244 Q345 1241 356 1244 V1250 Q345 1253 334 1250 Z" stroke="#555" stroke-width="1.40" fill="#fff" stroke-linecap="round" stroke-linejoin="round"/>
<path d="M334 1250 V1279 Q345 1283 355 1279 V1250" stroke="#555" stroke-width="1.50" fill="#fff" stroke-linecap="round" stroke-linejoin="round"/>
<path d="M356 1265 H397" stroke="#777" stroke-width="1.30" fill="none" stroke-linecap="round" stroke-linejoin="round"/>
<text x="410.0" y="1272.0" font-size="30.0" fill="#4a4a4a" textLength="34.0" lengthAdjust="spacingAndGlyphs">46</text>
<path d="M338 1300 V1713 Q344.5 1717 351.5 1713 V1300" stroke="#555" stroke-width="1.60" fill="#fff" stroke-linecap="round" stroke-linejoin="round"/>
<ellipse cx="344.5" cy="1299.0" rx="6.5" ry="2.5" stroke="#555" stroke-width="1.40" fill="#fff"/>
<path d="M341 1302 V1710" stroke="#aaa" stroke-width="0.90" fill="none" stroke-linecap="round" stroke-linejoin="round"/>
<path d="M351.6 1396 H397" stroke="#777" stroke-width="1.30" fill="none" stroke-linecap="round" stroke-linejoin="round"/>
<rect x="409" y="1379" width="36" height="26" fill="#fff"/>
<defs><clipPath id="c22"><rect x="405" y="1383" width="50" height="30"/></clipPath></defs>
<g clip-path="url(#c22)"><text x="411.5" y="1398.5" font-size="29.0" fill="#333" textLength="31.0" lengthAdjust="spacingAndGlyphs">22</text></g>
<path d="M344.5 1716 V1727" stroke="#999" stroke-width="1.00" fill="none" stroke-linecap="round" stroke-linejoin="round"/>
<path d="M334 1731 V1756 Q344 1761 354 1756 V1731" stroke="#555" stroke-width="1.50" fill="#fff" stroke-linecap="round" stroke-linejoin="round"/>
<ellipse cx="344.0" cy="1731.0" rx="13.0" ry="4.5" stroke="#555" stroke-width="1.50" fill="#fff"/>
<ellipse cx="344.0" cy="1731.0" rx="8.0" ry="2.5" stroke="#777" stroke-width="1.10" fill="none"/>
<path d="M355 1743 H398" stroke="#999" stroke-width="1.30" fill="none" stroke-linecap="round" stroke-linejoin="round"/>
<text x="413.0" y="1746.3" font-size="24.0" fill="#333" textLength="28.0" lengthAdjust="spacingAndGlyphs">12</text>
<text x="439.0" y="1746.3" font-size="29.0" fill="#333">*</text>
<path d="M227 1302 V1318 L229 1320 V1356 L232 1360 V1580 Q236 1590 271 1590 Q306 1590 309.5 1580 V1360 L313 1356 V1320 L316 1318 V1302 Z" stroke="#555" stroke-width="1.80" fill="#fff" stroke-linecap="round" stroke-linejoin="round"/>
<ellipse cx="271.5" cy="1302.0" rx="44.5" ry="16.0" stroke="#555" stroke-width="1.80" fill="#fff"/>
<ellipse cx="271.5" cy="1303.0" rx="39.0" ry="12.5" stroke="#555" stroke-width="1.40" fill="#fff"/>
<path d="M236.0 1303.0 A36 10.0 0 0 0 307.0 1303.0" stroke="#999" stroke-width="1.00" fill="none" stroke-linecap="round" stroke-linejoin="round"/>
<path d="M236.5 1305.5 A36 8.8 0 0 0 306.5 1305.5" stroke="#999" stroke-width="1.00" fill="none" stroke-linecap="round" stroke-linejoin="round"/>
<path d="M237.0 1308.0 A36 7.6 0 0 0 306.0 1308.0" stroke="#999" stroke-width="1.00" fill="none" stroke-linecap="round" stroke-linejoin="round"/>
<path d="M237.5 1310.5 A36 6.4 0 0 0 305.5 1310.5" stroke="#999" stroke-width="1.00" fill="none" stroke-linecap="round" stroke-linejoin="round"/>
<path d="M227 1318 Q271 1336 316 1318" stroke="#666" stroke-width="1.40" fill="none" stroke-linecap="round" stroke-linejoin="round"/>
<path d="M229 1356 Q271 1372 313 1356" stroke="#666" stroke-width="1.40" fill="none" stroke-linecap="round" stroke-linejoin="round"/>
<path d="M232 1360 Q271 1376 309.5 1360" stroke="#888" stroke-width="1.10" fill="none" stroke-linecap="round" stroke-linejoin="round"/>
<path d="M241 1329 L266 1332 L265.5 1343 L240.5 1340 Z" stroke="#666" stroke-width="1.30" fill="none" stroke-linecap="round" stroke-linejoin="round"/>
<path d="M271 1290 V1318" stroke="#999" stroke-width="1.10" fill="none" stroke-linecap="round" stroke-linejoin="round"/>
<path d="M196 1338 H229" stroke="#777" stroke-width="1.30" fill="none" stroke-linecap="round" stroke-linejoin="round"/>
<text x="167.5" y="1348.0" font-size="29.0" fill="#4a4a4a">5</text>
<path d="M234 1460.8 Q236 1463.8 238 1465.8" stroke="#666" stroke-width="2.20" fill="none" stroke-linecap="round" stroke-linejoin="round"/>
<path d="M242.4 1463.3 Q250 1464.8 259 1465.3" stroke="#6a6a6a" stroke-width="2.60" fill="none" stroke-linecap="round" stroke-linejoin="round"/>
<path d="M268 1465.3 Q277 1465.6 287 1465.1" stroke="#6a6a6a" stroke-width="2.60" fill="none" stroke-linecap="round" stroke-linejoin="round"/>
<path d="M295 1465.3 Q301 1463.8 307.4 1461.8" stroke="#6a6a6a" stroke-width="2.60" fill="none" stroke-linecap="round" stroke-linejoin="round"/>
<path d="M234 1477.0 Q236 1480.0 238 1482.0" stroke="#666" stroke-width="2.20" fill="none" stroke-linecap="round" stroke-linejoin="round"/>
<path d="M242.4 1479.5 Q250 1481.0 259 1481.5" stroke="#6a6a6a" stroke-width="2.60" fill="none" stroke-linecap="round" stroke-linejoin="round"/>
<path d="M268 1481.5 Q277 1481.8 287 1481.3" stroke="#6a6a6a" stroke-width="2.60" fill="none" stroke-linecap="round" stroke-linejoin="round"/>
<path d="M295 1481.5 Q301 1480.0 307.4 1478.0" stroke="#6a6a6a" stroke-width="2.60" fill="none" stroke-linecap="round" stroke-linejoin="round"/>
<path d="M234 1490.7 Q236 1493.7 238 1495.7" stroke="#666" stroke-width="2.20" fill="none" stroke-linecap="round" stroke-linejoin="round"/>
<path d="M242.4 1493.2 Q250 1494.7 259 1495.2" stroke="#6a6a6a" stroke-width="2.60" fill="none" stroke-linecap="round" stroke-linejoin="round"/>
<path d="M268 1495.2 Q277 1495.5 287 1495.0" stroke="#6a6a6a" stroke-width="2.60" fill="none" stroke-linecap="round" stroke-linejoin="round"/>
<path d="M295 1495.2 Q301 1493.7 307.4 1491.7" stroke="#6a6a6a" stroke-width="2.60" fill="none" stroke-linecap="round" stroke-linejoin="round"/>
<path d="M234 1506.0 Q236 1509.0 238 1511.0" stroke="#666" stroke-width="2.20" fill="none" stroke-linecap="round" stroke-linejoin="round"/>
<path d="M242.4 1508.5 Q250 1510.0 259 1510.5" stroke="#6a6a6a" stroke-width="2.60" fill="none" stroke-linecap="round" stroke-linejoin="round"/>
<path d="M268 1510.5 Q277 1510.8 287 1510.3" stroke="#6a6a6a" stroke-width="2.60" fill="none" stroke-linecap="round" stroke-linejoin="round"/>
<path d="M295 1510.5 Q301 1509.0 307.4 1507.0" stroke="#6a6a6a" stroke-width="2.60" fill="none" stroke-linecap="round" stroke-linejoin="round"/>
<path d="M234 1521.6 Q236 1524.6 238 1526.6" stroke="#666" stroke-width="2.20" fill="none" stroke-linecap="round" stroke-linejoin="round"/>
<path d="M242.4 1524.1 Q250 1525.6 259 1526.1" stroke="#6a6a6a" stroke-width="2.60" fill="none" stroke-linecap="round" stroke-linejoin="round"/>
<path d="M268 1526.1 Q277 1526.4 287 1525.9" stroke="#6a6a6a" stroke-width="2.60" fill="none" stroke-linecap="round" stroke-linejoin="round"/>
<path d="M295 1526.1 Q301 1524.6 307.4 1522.6" stroke="#6a6a6a" stroke-width="2.60" fill="none" stroke-linecap="round" stroke-linejoin="round"/>
<path d="M234 1536.0 Q236 1539.0 238 1541.0" stroke="#666" stroke-width="2.20" fill="none" stroke-linecap="round" stroke-linejoin="round"/>
<path d="M242.4 1538.5 Q250 1540.0 259 1540.5" stroke="#6a6a6a" stroke-width="2.60" fill="none" stroke-linecap="round" stroke-linejoin="round"/>
<path d="M268 1540.5 Q277 1540.8 287 1540.3" stroke="#6a6a6a" stroke-width="2.60" fill="none" stroke-linecap="round" stroke-linejoin="round"/>
<path d="M295 1540.5 Q301 1539.0 307.4 1537.0" stroke="#6a6a6a" stroke-width="2.60" fill="none" stroke-linecap="round" stroke-linejoin="round"/>
<path d="M233 1548.0 Q271 1551.0 309 1548.0" stroke="#9a9a9a" stroke-width="0.90" fill="none" stroke-linecap="round" stroke-linejoin="round"/>
<path d="M233 1551.0 Q271 1554.0 309 1551.0" stroke="#9a9a9a" stroke-width="0.90" fill="none" stroke-linecap="round" stroke-linejoin="round"/>
<path d="M233 1554.0 Q271 1557.0 309 1554.0" stroke="#9a9a9a" stroke-width="0.90" fill="none" stroke-linecap="round" stroke-linejoin="round"/>
<path d="M233 1557.0 Q271 1560.0 309 1557.0" stroke="#9a9a9a" stroke-width="0.90" fill="none" stroke-linecap="round" stroke-linejoin="round"/>
<path d="M233 1560.0 Q271 1563.0 309 1560.0" stroke="#9a9a9a" stroke-width="0.90" fill="none" stroke-linecap="round" stroke-linejoin="round"/>
<path d="M233 1563.0 Q271 1566.0 309 1563.0" stroke="#9a9a9a" stroke-width="0.90" fill="none" stroke-linecap="round" stroke-linejoin="round"/>
<path d="M233 1566.0 Q271 1569.0 309 1566.0" stroke="#9a9a9a" stroke-width="0.90" fill="none" stroke-linecap="round" stroke-linejoin="round"/>
<path d="M233 1569.0 Q271 1572.0 309 1569.0" stroke="#9a9a9a" stroke-width="0.90" fill="none" stroke-linecap="round" stroke-linejoin="round"/>
<path d="M233 1572.0 Q271 1575.0 309 1572.0" stroke="#9a9a9a" stroke-width="0.90" fill="none" stroke-linecap="round" stroke-linejoin="round"/>
<path d="M233 1575.0 Q271 1578.0 309 1575.0" stroke="#9a9a9a" stroke-width="0.90" fill="none" stroke-linecap="round" stroke-linejoin="round"/>
<path d="M233 1578.0 Q271 1581.0 309 1578.0" stroke="#9a9a9a" stroke-width="0.90" fill="none" stroke-linecap="round" stroke-linejoin="round"/>
<path d="M237 1580 Q271 1595 305 1580" stroke="#666" stroke-width="1.50" fill="none" stroke-linecap="round" stroke-linejoin="round"/>
<text x="154.7" y="1616.4" font-size="25.0" fill="#333" textLength="33.0" lengthAdjust="spacingAndGlyphs">10</text>
<text x="185.5" y="1616.4" font-size="27.0" fill="#333">*</text>
<rect x="207" y="1599" width="16" height="4" fill="#333"/>
<rect x="239" y="1592.6" width="16" height="3.2" fill="#333"/><rect x="245.5" y="1592.6" width="4" height="18" fill="#333"/><rect x="231" y="1608" width="32" height="4" fill="#333"/>
<path d="M280 1592 Q287 1610 274 1625" stroke="#333" stroke-width="4.00" fill="none" stroke-linecap="round" stroke-linejoin="round"/>
<text x="0" y="0" font-size="11" fill="#777" transform="translate(32.5 1767) rotate(-90)" textLength="95" lengthAdjust="spacingAndGlyphs">A32246 rev. 03/19</text>
<path d="M398 991 L1060 707" stroke="#8a8a8a" stroke-width="1.1"/>
<path d="M443 890 L410 904" stroke="#888" stroke-width="1.2" stroke-dasharray="12 4 2 4"/>
<path d="M483.5 802 V860" stroke="#888" stroke-width="1.3" stroke-dasharray="10 4 2 4"/>
<rect x="477.5" y="649" width="12.5" height="56" rx="5" fill="#fff" stroke="#666" stroke-width="1.6"/>
<path d="M478 651.0 Q484 652.8 490 651.0" stroke="#666" stroke-width="1.30" fill="none" stroke-linecap="round" stroke-linejoin="round"/>
<path d="M478 654.0 Q484 655.8 490 654.0" stroke="#666" stroke-width="1.30" fill="none" stroke-linecap="round" stroke-linejoin="round"/>
<path d="M478 656.9 Q484 658.7 490 656.9" stroke="#666" stroke-width="1.30" fill="none" stroke-linecap="round" stroke-linejoin="round"/>
<path d="M478 659.9 Q484 661.6 490 659.9" stroke="#666" stroke-width="1.30" fill="none" stroke-linecap="round" stroke-linejoin="round"/>
<path d="M478 662.8 Q484 664.6 490 662.8" stroke="#666" stroke-width="1.30" fill="none" stroke-linecap="round" stroke-linejoin="round"/>
<path d="M478 665.8 Q484 667.5 490 665.8" stroke="#666" stroke-width="1.30" fill="none" stroke-linecap="round" stroke-linejoin="round"/>
<path d="M478 668.7 Q484 670.5 490 668.7" stroke="#666" stroke-width="1.30" fill="none" stroke-linecap="round" stroke-linejoin="round"/>
<path d="M478 671.6 Q484 673.4 490 671.6" stroke="#666" stroke-width="1.30" fill="none" stroke-linecap="round" stroke-linejoin="round"/>
<path d="M478 674.6 Q484 676.4 490 674.6" stroke="#666" stroke-width="1.30" fill="none" stroke-linecap="round" stroke-linejoin="round"/>
<path d="M478 677.5 Q484 679.3 490 677.5" stroke="#666" stroke-width="1.30" fill="none" stroke-linecap="round" stroke-linejoin="round"/>
<path d="M478 680.5 Q484 682.3 490 680.5" stroke="#666" stroke-width="1.30" fill="none" stroke-linecap="round" stroke-linejoin="round"/>
<path d="M478 683.5 Q484 685.2 490 683.5" stroke="#666" stroke-width="1.30" fill="none" stroke-linecap="round" stroke-linejoin="round"/>
<path d="M478 686.4 Q484 688.2 490 686.4" stroke="#666" stroke-width="1.30" fill="none" stroke-linecap="round" stroke-linejoin="round"/>
<path d="M478 689.4 Q484 691.1 490 689.4" stroke="#666" stroke-width="1.30" fill="none" stroke-linecap="round" stroke-linejoin="round"/>
<path d="M478 692.3 Q484 694.1 490 692.3" stroke="#666" stroke-width="1.30" fill="none" stroke-linecap="round" stroke-linejoin="round"/>
<path d="M478 695.2 Q484 697.0 490 695.2" stroke="#666" stroke-width="1.30" fill="none" stroke-linecap="round" stroke-linejoin="round"/>
<path d="M478 698.2 Q484 700.0 490 698.2" stroke="#666" stroke-width="1.30" fill="none" stroke-linecap="round" stroke-linejoin="round"/>
<path d="M478 701.1 Q484 702.9 490 701.1" stroke="#666" stroke-width="1.30" fill="none" stroke-linecap="round" stroke-linejoin="round"/>
<path d="M478 704.1 Q484 705.9 490 704.1" stroke="#666" stroke-width="1.30" fill="none" stroke-linecap="round" stroke-linejoin="round"/>
<path d="M483.7 706 V718" stroke="#999" stroke-width="1.10" fill="none" stroke-linecap="round" stroke-linejoin="round" stroke-dasharray="3 2"/>
<path d="M490 676 H547.5" stroke="#888" stroke-width="1.30" fill="none" stroke-linecap="round" stroke-linejoin="round"/>
<text x="564.5" y="683.0" font-size="27.0" fill="#333" textLength="30.0" lengthAdjust="spacingAndGlyphs">36</text>
<path d="M478.75 750 V724 Q478.75 719.5 483.75 719.5 Q488.75 719.5 488.75 724 V750" stroke="#555" stroke-width="1.60" fill="#fff" stroke-linecap="round" stroke-linejoin="round"/>
<path d="M453.0 773.0 C453.8 771.7 455.5 768.5 458.0 765.0 C460.5 761.5 465.0 754.8 468.0 752.0 C471.0 749.2 472.3 749.3 476.0 748.0 C479.7 746.7 484.3 745.2 490.0 744.0 C495.7 742.8 504.0 741.9 510.0 741.0 C516.0 740.1 523.3 738.9 526.0 738.5 L526.0 738.5 C526.6 739.6 528.8 742.8 529.5 745.0 C530.2 747.2 530.3 749.5 530.0 752.0 C529.7 754.5 529.2 757.7 527.5 760.0 C525.8 762.3 523.3 764.2 520.0 766.0 C516.7 767.8 512.5 769.5 507.5 771.0 C502.5 772.5 496.2 774.2 490.0 775.0 C483.8 775.8 475.8 775.3 470.0 775.5 C464.2 775.7 457.5 775.9 455.0 776.0Z" stroke="#555" stroke-width="1.70" fill="#fff" stroke-linecap="round" stroke-linejoin="round"/>
<path d="M470.0 761.0 C473.3 760.3 484.2 758.2 490.0 757.0 C495.8 755.8 500.8 755.5 505.0 754.0 C509.2 752.5 513.3 749.0 515.0 748.0" stroke="#666" stroke-width="2.20" fill="none" stroke-linecap="round" stroke-linejoin="round"/>
<path d="M470.0 765.0 C474.2 764.7 487.5 764.3 495.0 763.0 C502.5 761.7 510.2 759.5 515.0 757.0 C519.8 754.5 522.5 749.5 524.0 748.0" stroke="#777" stroke-width="1.20" fill="none" stroke-linecap="round" stroke-linejoin="round"/>
<path d="M458.0 775.5 l0 -3.5" stroke="#777" stroke-width="1.30" fill="none" stroke-linecap="round" stroke-linejoin="round"/>
<path d="M463.2 775.4 l0 -3.5" stroke="#777" stroke-width="1.30" fill="none" stroke-linecap="round" stroke-linejoin="round"/>
<path d="M468.5 775.1 l0 -3.5" stroke="#777" stroke-width="1.30" fill="none" stroke-linecap="round" stroke-linejoin="round"/>
<path d="M473.7 774.5 l0 -3.5" stroke="#777" stroke-width="1.30" fill="none" stroke-linecap="round" stroke-linejoin="round"/>
<path d="M478.9 773.8 l0 -3.5" stroke="#777" stroke-width="1.30" fill="none" stroke-linecap="round" stroke-linejoin="round"/>
<path d="M484.2 772.8 l0 -3.5" stroke="#777" stroke-width="1.30" fill="none" stroke-linecap="round" stroke-linejoin="round"/>
<path d="M489.4 771.7 l0 -3.5" stroke="#777" stroke-width="1.30" fill="none" stroke-linecap="round" stroke-linejoin="round"/>
<path d="M494.6 770.3 l0 -3.5" stroke="#777" stroke-width="1.30" fill="none" stroke-linecap="round" stroke-linejoin="round"/>
<path d="M499.8 768.7 l0 -3.5" stroke="#777" stroke-width="1.30" fill="none" stroke-linecap="round" stroke-linejoin="round"/>
<path d="M505.1 766.9 l0 -3.5" stroke="#777" stroke-width="1.30" fill="none" stroke-linecap="round" stroke-linejoin="round"/>
<path d="M510.3 764.8 l0 -3.5" stroke="#777" stroke-width="1.30" fill="none" stroke-linecap="round" stroke-linejoin="round"/>
<path d="M515.5 762.6 l0 -3.5" stroke="#777" stroke-width="1.30" fill="none" stroke-linecap="round" stroke-linejoin="round"/>
<path d="M520.8 760.2 l0 -3.5" stroke="#777" stroke-width="1.30" fill="none" stroke-linecap="round" stroke-linejoin="round"/>
<path d="M526.0 757.5 l0 -3.5" stroke="#777" stroke-width="1.30" fill="none" stroke-linecap="round" stroke-linejoin="round"/>
<path d="M478.75 750 Q483.75 753 488.75 750" stroke="#666" stroke-width="1.20" fill="none" stroke-linecap="round" stroke-linejoin="round"/>
<path d="M529 747 H551" stroke="#888" stroke-width="1.30" fill="none" stroke-linecap="round" stroke-linejoin="round"/>
<text x="566.5" y="753.0" font-size="27.0" fill="#333" textLength="29.0" lengthAdjust="spacingAndGlyphs">34</text>
<ellipse cx="483.5" cy="796.0" rx="7.5" ry="3.8" stroke="#555" stroke-width="2.40" fill="#888"/>
<ellipse cx="483.5" cy="796.0" rx="2.5" ry="1.3" stroke="#555" stroke-width="1.00" fill="#ddd"/>
<path d="M491 796 H551" stroke="#888" stroke-width="1.30" fill="none" stroke-linecap="round" stroke-linejoin="round"/>
<text x="565.5" y="802.5" font-size="27.0" fill="#333" textLength="29.0" lengthAdjust="spacingAndGlyphs">35</text>
<text x="594.5" y="802.5" font-size="29.0" fill="#333">*</text>
<ellipse cx="442.6" cy="971.4" rx="18.0" ry="23.0" stroke="#555" stroke-width="1.80" fill="#fff" transform="rotate(-10.0 442.6 971.4)"/>
<ellipse cx="442.6" cy="971.4" rx="12.7" ry="18.6" stroke="#555" stroke-width="1.60" fill="none" transform="rotate(-10.0 442.6 971.4)"/>
<path d="M410 986 L460 964.5" stroke="#8a8a8a" stroke-width="1.10" fill="none" stroke-linecap="round" stroke-linejoin="round"/>
<path d="M447 995 V1029.4" stroke="#888" stroke-width="1.30" fill="none" stroke-linecap="round" stroke-linejoin="round"/>
<text x="427.0" y="1063.0" font-size="28.0" fill="#4a4a4a" textLength="31.0" lengthAdjust="spacingAndGlyphs">21</text>
<text x="462.0" y="1063.0" font-size="26.0" fill="#4a4a4a">*</text>
<ellipse cx="479.8" cy="957.0" rx="6.8" ry="9.0" stroke="#555" stroke-width="2.60" fill="none" transform="rotate(-10.0 479.8 957.0)"/>
<path d="M478.9 923.4 V944" stroke="#888" stroke-width="1.30" fill="none" stroke-linecap="round" stroke-linejoin="round"/>
<text x="460.5" y="913.4" font-size="28.0" fill="#4a4a4a" textLength="31.0" lengthAdjust="spacingAndGlyphs">20</text>
<text x="492.0" y="913.4" font-size="29.0" fill="#4a4a4a">*</text>
<ellipse cx="507.0" cy="943.3" rx="10.2" ry="11.6" stroke="#555" stroke-width="1.70" fill="#fff" transform="rotate(-10.0 507.0 943.3)"/>
<ellipse cx="506.0" cy="944.0" rx="5.0" ry="7.0" stroke="#666" stroke-width="1.50" fill="none" transform="rotate(-10.0 506.0 944.0)"/>
<path d="M509.3 955 V998.6" stroke="#888" stroke-width="1.30" fill="none" stroke-linecap="round" stroke-linejoin="round"/>
<text x="493.0" y="1033.0" font-size="28.0" fill="#4a4a4a" textLength="31.0" lengthAdjust="spacingAndGlyphs">19</text>
<g transform="translate(546.4 928.9) rotate(-22.6)"><rect x="-22" y="-8.5" width="44" height="17" rx="6" fill="#fff" stroke="#555" stroke-width="1.5"/><ellipse cx="-19.0" cy="0" rx="3" ry="8" fill="none" stroke="#444" stroke-width="1.9"/><ellipse cx="-14.4" cy="0" rx="3" ry="8" fill="none" stroke="#444" stroke-width="1.9"/><ellipse cx="-9.8" cy="0" rx="3" ry="8" fill="none" stroke="#444" stroke-width="1.9"/><ellipse cx="-5.2" cy="0" rx="3" ry="8" fill="none" stroke="#444" stroke-width="1.9"/><ellipse cx="-0.6" cy="0" rx="3" ry="8" fill="none" stroke="#444" stroke-width="1.9"/><ellipse cx="4.0" cy="0" rx="3" ry="8" fill="none" stroke="#444" stroke-width="1.9"/><ellipse cx="8.6" cy="0" rx="3" ry="8" fill="none" stroke="#444" stroke-width="1.9"/><ellipse cx="13.2" cy="0" rx="3" ry="8" fill="none" stroke="#444" stroke-width="1.9"/><ellipse cx="17.8" cy="0" rx="3" ry="8" fill="none" stroke="#444" stroke-width="1.9"/></g>
<path d="M543.2 892.6 V920" stroke="#888" stroke-width="1.30" fill="none" stroke-linecap="round" stroke-linejoin="round"/>
<text x="529.0" y="880.8" font-size="28.0" fill="#4a4a4a" textLength="28.0" lengthAdjust="spacingAndGlyphs">18</text>
<text x="557.0" y="880.8" font-size="27.0" fill="#4a4a4a">*</text>
<g transform="translate(584 912.5) rotate(-22.6)"><rect x="3" y="-3" width="40" height="6" fill="#fff" stroke="#555" stroke-width="1.4"/><ellipse cx="0" cy="0" rx="4" ry="5.5" fill="#fff" stroke="#555" stroke-width="1.5"/><path d="M40 -5.5 L48 -5.5 L48 5.5 L40 5.5 Z" fill="#fff" stroke="#555" stroke-width="1.4"/><path d="M48 -7 L52 -11 L62 -11 L76 -3 L76 3 L62 11 L52 11 L48 7 Z" fill="#fff" stroke="#555" stroke-width="1.5"/><ellipse cx="53" cy="0" rx="4" ry="11" fill="#fff" stroke="#555" stroke-width="1.5"/><path d="M64 -9 L66 9 M70 -6 L71 6" stroke="#777" stroke-width="1.2"/></g>
<path d="M615.7 908 V944.3" stroke="#888" stroke-width="1.30" fill="none" stroke-linecap="round" stroke-linejoin="round"/>
<text x="603.0" y="971.4" font-size="28.0" fill="#4a4a4a" textLength="28.0" lengthAdjust="spacingAndGlyphs">17</text>
<ellipse cx="668.3" cy="876.3" rx="9.8" ry="11.8" stroke="#555" stroke-width="1.80" fill="#fff" transform="rotate(-10.0 668.3 876.3)"/>
<ellipse cx="668.3" cy="876.5" rx="6.0" ry="8.0" stroke="#666" stroke-width="1.40" fill="none" transform="rotate(-10.0 668.3 876.5)"/>
<path d="M668.3 889 V930.7" stroke="#888" stroke-width="1.30" fill="none" stroke-linecap="round" stroke-linejoin="round"/>
<text x="645.0" y="971.4" font-size="28.0" fill="#4a4a4a" textLength="28.0" lengthAdjust="spacingAndGlyphs">16</text>
<text x="676.0" y="971.4" font-size="27.0" fill="#4a4a4a">*</text>
<path d="M757 818 L820.4 794.4 L836.75 819.8 L773.3 852.4 Z" stroke="#555" stroke-width="1.70" fill="#fff" stroke-linecap="round" stroke-linejoin="round"/>
<ellipse cx="829.5" cy="807.0" rx="7.0" ry="13.5" stroke="#555" stroke-width="1.70" fill="#fff" transform="rotate(-22.0 829.5 807.0)"/>
<path d="M806.0 800.0 L815.0 826.0" stroke="#888" stroke-width="1.00" fill="none" stroke-linecap="round" stroke-linejoin="round"/>
<path d="M808.6 799.0 L817.6 825.0" stroke="#888" stroke-width="1.00" fill="none" stroke-linecap="round" stroke-linejoin="round"/>
<path d="M811.2 798.0 L820.2 824.0" stroke="#888" stroke-width="1.00" fill="none" stroke-linecap="round" stroke-linejoin="round"/>
<path d="M813.8 797.0 L822.8 823.0" stroke="#888" stroke-width="1.00" fill="none" stroke-linecap="round" stroke-linejoin="round"/>
<path d="M816.4 796.0 L825.4 822.0" stroke="#888" stroke-width="1.00" fill="none" stroke-linecap="round" stroke-linejoin="round"/>
<path d="M819.0 795.0 L828.0 821.0" stroke="#888" stroke-width="1.00" fill="none" stroke-linecap="round" stroke-linejoin="round"/>
<path d="M821.6 794.0 L830.6 820.0" stroke="#888" stroke-width="1.00" fill="none" stroke-linecap="round" stroke-linejoin="round"/>
<path d="M824.2 793.0 L833.2 819.0" stroke="#888" stroke-width="1.00" fill="none" stroke-linecap="round" stroke-linejoin="round"/>
<path d="M711.7 818.0 C714.8 817.2 724.0 814.2 730.0 813.0 C736.0 811.8 742.9 809.9 748.0 810.8 C753.1 811.6 756.8 814.4 760.6 818.0 C764.4 821.6 768.5 827.1 770.6 832.5 C772.7 837.9 773.4 844.6 773.3 850.6 C773.1 856.6 772.4 863.4 769.7 868.8 C767.0 874.1 763.4 879.1 757.0 883.0 C750.6 886.9 735.8 890.8 731.6 892.3 Z" stroke="#555" stroke-width="1.70" fill="#fff" stroke-linecap="round" stroke-linejoin="round"/>
<path d="M725.0 822.0 L757.0 814.0" stroke="#666" stroke-width="2.00" fill="none" stroke-linecap="round" stroke-linejoin="round"/>
<path d="M725.0 831.3 L757.0 824.0" stroke="#666" stroke-width="2.00" fill="none" stroke-linecap="round" stroke-linejoin="round"/>
<path d="M725.0 840.7 L757.0 834.0" stroke="#666" stroke-width="2.00" fill="none" stroke-linecap="round" stroke-linejoin="round"/>
<path d="M725.0 850.0 L757.0 844.0" stroke="#666" stroke-width="2.00" fill="none" stroke-linecap="round" stroke-linejoin="round"/>
<path d="M725.0 859.3 L757.0 854.0" stroke="#666" stroke-width="2.00" fill="none" stroke-linecap="round" stroke-linejoin="round"/>
<path d="M725.0 868.7 L757.0 864.0" stroke="#666" stroke-width="2.00" fill="none" stroke-linecap="round" stroke-linejoin="round"/>
<path d="M725.0 878.0 L757.0 874.0" stroke="#666" stroke-width="2.00" fill="none" stroke-linecap="round" stroke-linejoin="round"/>
<ellipse cx="707.0" cy="858.0" rx="24.5" ry="38.0" stroke="#555" stroke-width="2.00" fill="#fff" transform="rotate(-8.0 707.0 858.0)" stroke-dasharray="3 1.5"/>
<ellipse cx="708.0" cy="861.5" rx="21.0" ry="31.5" stroke="#555" stroke-width="1.80" fill="#f4f4f4" transform="rotate(-8.0 708.0 861.5)"/>
<ellipse cx="709.0" cy="862.0" rx="15.0" ry="25.0" stroke="#888" stroke-width="1.00" fill="#d2d2d2" transform="rotate(-8.0 709.0 862.0)"/>
<ellipse cx="710.0" cy="862.0" rx="13.0" ry="23.0" stroke="#8a8a8a" stroke-width="0.90" fill="none" transform="rotate(-8.0 710.0 862.0)"/>
<ellipse cx="710.0" cy="862.0" rx="11.0" ry="19.6" stroke="#8a8a8a" stroke-width="0.90" fill="none" transform="rotate(-8.0 710.0 862.0)"/>
<ellipse cx="710.0" cy="862.0" rx="9.0" ry="16.2" stroke="#8a8a8a" stroke-width="0.90" fill="none" transform="rotate(-8.0 710.0 862.0)"/>
<ellipse cx="710.0" cy="862.0" rx="7.0" ry="12.8" stroke="#8a8a8a" stroke-width="0.90" fill="none" transform="rotate(-8.0 710.0 862.0)"/>
<ellipse cx="710.0" cy="862.0" rx="5.0" ry="9.4" stroke="#8a8a8a" stroke-width="0.90" fill="none" transform="rotate(-8.0 710.0 862.0)"/>
<ellipse cx="710.0" cy="862.0" rx="3.0" ry="6.0" stroke="#8a8a8a" stroke-width="0.90" fill="none" transform="rotate(-8.0 710.0 862.0)"/>
<path d="M788.7 848.8 V881.4" stroke="#888" stroke-width="1.30" fill="none" stroke-linecap="round" stroke-linejoin="round"/>
<text x="772.0" y="914.0" font-size="28.0" fill="#4a4a4a" textLength="30.0" lengthAdjust="spacingAndGlyphs">41</text>
<ellipse cx="855.2" cy="798.0" rx="12.2" ry="15.4" stroke="#555" stroke-width="1.80" fill="#fff" transform="rotate(-10.0 855.2 798.0)"/>
<path d="M857.2 783.5 A12 15 -10 0 1 860.2 811.0" stroke="#999" stroke-width="1.00" fill="none" stroke-linecap="round" stroke-linejoin="round"/>
<ellipse cx="880.0" cy="787.5" rx="12.2" ry="15.4" stroke="#555" stroke-width="1.80" fill="#fff" transform="rotate(-10.0 880.0 787.5)"/>
<path d="M882.0 773.0 A12 15 -10 0 1 885.0 800.5" stroke="#999" stroke-width="1.00" fill="none" stroke-linecap="round" stroke-linejoin="round"/>
<ellipse cx="904.7" cy="777.4" rx="12.2" ry="15.4" stroke="#555" stroke-width="1.80" fill="#fff" transform="rotate(-10.0 904.7 777.4)"/>
<path d="M906.7 762.9 A12 15 -10 0 1 909.7 790.4" stroke="#999" stroke-width="1.00" fill="none" stroke-linecap="round" stroke-linejoin="round"/>
<ellipse cx="930.0" cy="766.4" rx="12.2" ry="15.4" stroke="#555" stroke-width="1.80" fill="#fff" transform="rotate(-10.0 930.0 766.4)"/>
<path d="M932.0 751.9 A12 15 -10 0 1 935.0 779.4" stroke="#999" stroke-width="1.00" fill="none" stroke-linecap="round" stroke-linejoin="round"/>
<path d="M848.3 823.7 V828.5 L943 785.5 V779.8" stroke="#888" stroke-width="1.30" fill="none" stroke-linecap="round" stroke-linejoin="round"/>
<path d="M881.6 814 V843.4" stroke="#888" stroke-width="1.30" fill="none" stroke-linecap="round" stroke-linejoin="round"/>
<text x="861.0" y="872.4" font-size="28.0" fill="#4a4a4a" textLength="31.0" lengthAdjust="spacingAndGlyphs">42</text>
<text x="893.5" y="872.4" font-size="25.0" fill="#4a4a4a">*</text>
<ellipse cx="964.4" cy="751.9" rx="14.0" ry="18.0" stroke="#555" stroke-width="1.80" fill="#fff" transform="rotate(-10.0 964.4 751.9)"/>
<ellipse cx="962.5" cy="753.0" rx="6.0" ry="9.7" stroke="#555" stroke-width="1.60" fill="none" transform="rotate(-10.0 962.5 753.0)"/>
<path d="M963.75 770 V808.75" stroke="#888" stroke-width="1.30" fill="none" stroke-linecap="round" stroke-linejoin="round"/>
<text x="942.0" y="840.0" font-size="28.0" fill="#4a4a4a" textLength="32.0" lengthAdjust="spacingAndGlyphs">43</text>
<text x="975.5" y="840.0" font-size="27.0" fill="#4a4a4a">*</text>
<path d="M1000 721 L1012 718 L1024 726 L1026 733 L1021 737 L1026 741 L1020 746 L1008 752 L1000 754 Z" stroke="#555" stroke-width="1.60" fill="#fff" stroke-linecap="round" stroke-linejoin="round"/>
<ellipse cx="997.5" cy="737.5" rx="12.5" ry="17.0" stroke="#555" stroke-width="1.80" fill="#fff" transform="rotate(-10.0 997.5 737.5)"/>
<ellipse cx="997.5" cy="738.0" rx="8.0" ry="12.0" stroke="#666" stroke-width="1.50" fill="#e6e6e6" transform="rotate(-10.0 997.5 738.0)"/>
<path d="M1018 746 V786" stroke="#888" stroke-width="1.30" fill="none" stroke-linecap="round" stroke-linejoin="round"/>
<text x="1003.0" y="818.0" font-size="28.0" fill="#4a4a4a" textLength="31.0" lengthAdjust="spacingAndGlyphs">44</text>
<text x="1037.0" y="818.0" font-size="28.0" fill="#4a4a4a">*</text>
<path d="M1045.0 689.0 C1047.5 687.2 1054.8 680.3 1060.0 678.0 C1065.2 675.7 1071.0 675.0 1076.0 675.0 C1081.0 675.0 1086.0 676.0 1090.0 678.0 C1094.0 680.0 1097.7 683.8 1100.0 687.0 C1102.3 690.2 1103.3 693.7 1104.0 697.5 C1104.7 701.3 1104.7 706.7 1104.0 710.0 C1103.3 713.3 1102.0 714.5 1100.0 717.5 C1098.0 720.5 1095.2 725.1 1092.0 728.0 C1088.8 730.9 1084.7 732.8 1081.0 735.0 C1077.3 737.2 1071.8 740.0 1070.0 741.0 Z" stroke="#555" stroke-width="1.80" fill="#fff" stroke-linecap="round" stroke-linejoin="round"/>
<path d="M1078 676 L1085 690 V727 M1093 681 L1098 695 V722" stroke="#777" stroke-width="1.30" fill="none" stroke-linecap="round" stroke-linejoin="round"/>
<ellipse cx="1057.5" cy="715.0" rx="24.0" ry="28.0" stroke="#555" stroke-width="2.00" fill="#fff" transform="rotate(-10.0 1057.5 715.0)"/>
<ellipse cx="1057.5" cy="715.0" rx="21.0" ry="25.0" stroke="#555" stroke-width="1.20" fill="none" transform="rotate(-10.0 1057.5 715.0)" stroke-dasharray="2 2"/>
<ellipse cx="1057.5" cy="716.0" rx="15.0" ry="21.0" stroke="#555" stroke-width="1.40" fill="#c6c6c6" transform="rotate(-10.0 1057.5 716.0)"/>
<ellipse cx="1058.0" cy="716.0" rx="13.0" ry="19.0" stroke="#888" stroke-width="0.90" fill="none" transform="rotate(-10.0 1058.0 716.0)"/>
<ellipse cx="1058.0" cy="716.0" rx="10.7" ry="15.5" stroke="#888" stroke-width="0.90" fill="none" transform="rotate(-10.0 1058.0 716.0)"/>
<ellipse cx="1058.0" cy="716.0" rx="8.4" ry="12.0" stroke="#888" stroke-width="0.90" fill="none" transform="rotate(-10.0 1058.0 716.0)"/>
<ellipse cx="1058.0" cy="716.0" rx="6.1" ry="8.5" stroke="#888" stroke-width="0.90" fill="none" transform="rotate(-10.0 1058.0 716.0)"/>
<ellipse cx="1058.0" cy="716.0" rx="3.8" ry="5.0" stroke="#888" stroke-width="0.90" fill="none" transform="rotate(-10.0 1058.0 716.0)"/>
<path d="M1082.5 735 V760" stroke="#888" stroke-width="1.30" fill="none" stroke-linecap="round" stroke-linejoin="round"/>
<text x="1065.0" y="793.0" font-size="28.0" fill="#4a4a4a" textLength="33.0" lengthAdjust="spacingAndGlyphs">45</text>
<path d="M470 467.5 H890" stroke="#e6e6e6" stroke-width="2.5" stroke-dasharray="9 3 4 2 12 4"/>
<text x="463.0" y="484.5" font-size="15.0" fill="#555" textLength="7.0" lengthAdjust="spacingAndGlyphs">F</text>
<text x="469.6" y="493.1" font-size="17.0" fill="#3c3c3c" textLength="334.9" lengthAdjust="spacingAndGlyphs">Ricambi originali / <tspan font-style="italic">Original spare parts</tspan></text>
<text x="817.8" y="493.1" font-size="17.0" fill="#3c3c3c" textLength="63.2" lengthAdjust="spacingAndGlyphs">129907:</text>
<text x="881.8" y="489.0" font-size="17.0" fill="#3c3c3c" textLength="358.2" lengthAdjust="spacingAndGlyphs">FPM (7˙-10*-11*-12˙-16˙-18*-20*-21*-33*-35)</text>
<text x="469.6" y="518.4" font-size="17.0" fill="#3c3c3c" textLength="160.4" lengthAdjust="spacingAndGlyphs">Phụ kiện chính hãng</text>
<text x="718.0" y="518.4" font-size="17.0" fill="#3c3c3c" textLength="63.0" lengthAdjust="spacingAndGlyphs">CZ9908,</text>
<text x="818.6" y="518.4" font-size="17.0" fill="#3c3c3c" textLength="62.4" lengthAdjust="spacingAndGlyphs">CZ9960:</text>
<text x="881.8" y="517.5" font-size="17.0" fill="#3c3c3c" textLength="389.8" lengthAdjust="spacingAndGlyphs">EPDM (7˙-10˙-11*-12*-16.-18˙20˙-21*-33*-35)</text>
<text x="469.6" y="543.7" font-size="17.0" fill="#3c3c3c" textLength="62.4" lengthAdjust="spacingAndGlyphs">CZ9961:</text>
<text x="881.8" y="538.0" font-size="17.0" fill="#3c3c3c" textLength="27.2" lengthAdjust="spacingAndGlyphs">42*</text>
<text x="895.0" y="563.4" font-size="17.0" fill="#3c3c3c" textLength="90.5" lengthAdjust="spacingAndGlyphs">42˙43˙44*</text>
<text x="1059.3" y="570.6" font-size="14.5" fill="#3c3c3c" textLength="311.4" lengthAdjust="spacingAndGlyphs">*Components facenti parte dei kit ricambi.</text>
<text x="1059.3" y="589.2" font-size="13.5" fill="#3c3c3c" textLength="207.3" lengthAdjust="spacingAndGlyphs"><tspan font-style="italic">*Components are parr</tspan> of <tspan font-style="italic">the</tspan></text>
<text x="1059.3" y="607.8" font-size="11.0" fill="#3c3c3c" textLength="12.0" lengthAdjust="spacingAndGlyphs"><tspan font-style="italic">kit</tspan></text>
<text x="1077.8" y="607.8" font-size="18.0" fill="#3c3c3c" textLength="43.2" lengthAdjust="spacingAndGlyphs">parts.</text>
<text x="1058.3" y="623.8" font-size="18.0" fill="#3c3c3c" textLength="308.3" lengthAdjust="spacingAndGlyphs">Các phụ kiện là các chi tiết của thiết bị</text>
<defs><clipPath id="c1"><rect x="900" y="913" width="500" height="15.7"/></clipPath><clipPath id="c2"><rect x="900" y="928.7" width="500" height="14.3"/></clipPath><clipPath id="c3"><rect x="900" y="943" width="500" height="20"/></clipPath></defs>
<g clip-path="url(#c1)"><text x="928.6" y="925.3" font-size="18.5" fill="#3c3c3c" textLength="434.2" lengthAdjust="spacingAndGlyphs"><tspan font-style="italic">Tabella riassuntira dei lively di riempiinento • •</tspan></text></g>
<g clip-path="url(#c2)"><text x="993.3" y="940.3" font-size="18.5" fill="#3c3c3c" textLength="304.7" lengthAdjust="spacingAndGlyphs"><tspan font-style="italic">Summary fable of filling levels ••</tspan></text></g>
<g clip-path="url(#c3)"><text x="1023.5" y="955.5" font-size="18.5" fill="#3c3c3c" textLength="245.0" lengthAdjust="spacingAndGlyphs"><tspan font-style="italic">Bảng tóm tắt mức làm đầy</tspan></text></g>
<defs><pattern id="tex" width="7" height="7" patternUnits="userSpaceOnUse" patternTransform="rotate(-28)"><rect width="7" height="7" fill="none"/><rect y="0" width="7" height="2.2" fill="#ffffff" fill-opacity="0.13"/></pattern></defs>
<rect x="923" y="969" width="408" height="199" fill="#dde3ea"/>
<rect x="923" y="969" width="408" height="199" fill="url(#tex)"/>
<rect x="936" y="981" width="382" height="20.5" fill="#a6a9ac"/>
<rect x="936" y="1001.5" width="382" height="38.5" fill="#c6cacf"/>
<rect x="936" y="1040" width="382" height="37" fill="#aaacaf"/>
<rect x="936" y="1077" width="382" height="37" fill="#c7cbcf"/>
<rect x="936" y="1114" width="382" height="39.5" fill="#a8aaad"/>
<rect x="1126" y="981" width="2.2" height="172.5" fill="#4e5256"/>
<text x="993.4" y="995.8" font-size="13.0" fill="#63666b" textLength="75.6" lengthAdjust="spacingAndGlyphs">Versioni/<tspan font-style="italic">Type</tspan></text>
<text x="1136.0" y="996.5" font-size="13.0" fill="#63666b" textLength="173.5" lengthAdjust="spacingAndGlyphs">Livello flacone/<tspan font-style="italic">Container level</tspan></text>
<text x="956.0" y="1017.0" font-size="12.5" fill="#63666b" textLength="153.6" lengthAdjust="spacingAndGlyphs" font-weight="bold">Tec One 1000 Formaschiuma</text>
<text x="973.5" y="1033.0" font-size="12.5" fill="#63666b" textLength="115.5" lengthAdjust="spacingAndGlyphs" font-weight="bold"><tspan font-style="italic">Tec One 1000 Foamer</tspan></text>
<text x="955.0" y="1054.0" font-size="12.5" fill="#63666b" textLength="153.0" lengthAdjust="spacingAndGlyphs" font-weight="bold">Tec One 1750 Formaschiuma</text>
<text x="973.0" y="1070.7" font-size="12.5" fill="#63666b" textLength="116.0" lengthAdjust="spacingAndGlyphs" font-weight="bold"><tspan font-style="italic">Tec One 1750 Foamer</tspan></text>
<text x="949.4" y="1091.4" font-size="12.5" fill="#63666b" textLength="165.1" lengthAdjust="spacingAndGlyphs" font-weight="bold"><tspan font-style="italic">AF-Type 1.5 Pro Formaschiuma</tspan></text>
<text x="968.0" y="1104.4" font-size="12.5" fill="#63666b" textLength="128.0" lengthAdjust="spacingAndGlyphs" font-weight="bold"><tspan font-style="italic">AF-Type 1.5 Pro Foamer</tspan></text>
<text x="956.0" y="1132.0" font-size="12.5" fill="#63666b" textLength="154.0" lengthAdjust="spacingAndGlyphs" font-weight="bold"><tspan font-style="italic">Tec Two 2000 Formaschiuma</tspan></text>
<text x="975.0" y="1145.0" font-size="12.5" fill="#63666b" textLength="115.0" lengthAdjust="spacingAndGlyphs" font-weight="bold"><tspan font-style="italic">Tec Two 2000 Foamer</tspan></text>
<text x="1222.5" y="1025.0" font-size="12.0" fill="#63666b" font-weight="bold" text-anchor="middle">0,5</text>
<text x="1222.5" y="1063.0" font-size="12.0" fill="#63666b" font-weight="bold" text-anchor="middle">0,75</text>
<text x="1222.5" y="1100.0" font-size="12.0" fill="#63666b" font-weight="bold" text-anchor="middle">1,0</text>
<text x="1222.5" y="1137.5" font-size="12.0" fill="#63666b" font-weight="bold" text-anchor="middle">1,0</text>
<defs><radialGradient id="bg1" cx="1130" cy="1685" r="230" gradientUnits="userSpaceOnUse"><stop offset="0" stop-color="#d0d5db"/><stop offset="1" stop-color="#dfe5ec"/></radialGradient></defs>
<rect x="490" y="1214" width="840" height="501" fill="#dfe5ec"/>
<rect x="760" y="1450" width="570" height="265" fill="url(#bg1)"/>
<rect x="490" y="1214" width="840" height="501" fill="url(#tex)"/>
<rect x="505" y="1232.5" width="344" height="140" fill="#fff"/>
<rect x="496" y="1372" width="353" height="316.5" fill="#fff"/>
<text x="506.0" y="1249.0" font-size="16.5" fill="#2e2e2e" textLength="249.0" lengthAdjust="spacingAndGlyphs">Distanziali per regolazione della</text>
<text x="506.0" y="1268.0" font-size="16.5" fill="#2e2e2e" textLength="70.0" lengthAdjust="spacingAndGlyphs">schiuma.</text>
<text x="506.0" y="1289.0" font-size="16.5" fill="#2e2e2e" textLength="336.5" lengthAdjust="spacingAndGlyphs">A seconda del grado di schiumosita desiderata</text>
<text x="531.0" y="1309.0" font-size="16.5" fill="#2e2e2e" textLength="317.0" lengthAdjust="spacingAndGlyphs">umido o piu secco) e possibile utilizzare i 3</text>
<text x="506.0" y="1328.0" font-size="16.5" fill="#2e2e2e" textLength="342.0" lengthAdjust="spacingAndGlyphs">distanziali. Svitate d girella e rimuovete i feltrini,</text>
<text x="506.0" y="1346.0" font-size="16.5" fill="#2e2e2e" textLength="342.0" lengthAdjust="spacingAndGlyphs">inserite poi it distanziale e nuovarnente i feltrini</text>
<text x="506.0" y="1366.0" font-size="16.5" fill="#2e2e2e" textLength="121.5" lengthAdjust="spacingAndGlyphs">come da schema.</text>
<text x="497.5" y="1391.0" font-size="16.5" fill="#2e2e2e" textLength="292.5" lengthAdjust="spacingAndGlyphs">Spacer to adjust foam consistency.</text>
<text x="497.0" y="1425.0" font-size="16.5" fill="#2e2e2e" textLength="351.0" lengthAdjust="spacingAndGlyphs">The foaming texture you wish to attain can be</text>
<text x="497.0" y="1445.0" font-size="16.5" fill="#2e2e2e" textLength="351.0" lengthAdjust="spacingAndGlyphs">adjusted using the plastic spacer. Just unscrew</text>
<text x="497.0" y="1466.0" font-size="16.5" fill="#2e2e2e" textLength="351.0" lengthAdjust="spacingAndGlyphs">the nozzle and remove the disc felt and apply the</text>
<text x="497.0" y="1486.0" font-size="16.5" fill="#2e2e2e" textLength="303.0" lengthAdjust="spacingAndGlyphs">required plastic spacer as per this scheme.</text>
<text x="497.0" y="1520.0" font-size="16.5" fill="#2e2e2e" textLength="204.0" lengthAdjust="spacingAndGlyphs">Miếng đệm để điều chỉnh bọt.</text>
<text x="497.0" y="1554.0" font-size="16.5" fill="#2e2e2e" textLength="351.0" lengthAdjust="spacingAndGlyphs">Tùy thuộc vào mức độ tạo bọt mong muốn ướt</text>
<text x="497.0" y="1574.0" font-size="16.5" fill="#2e2e2e" textLength="351.0" lengthAdjust="spacingAndGlyphs">hoặc khô hơn) bạn có thể sử dụng 3 miếng đệm</text>
<text x="497.0" y="1595.0" font-size="16.5" fill="#2e2e2e" textLength="351.0" lengthAdjust="spacingAndGlyphs">lót. Tháo trục xoay và tháo miếng nỉ, sau đó lắp</text>
<text x="497.0" y="1616.0" font-size="16.5" fill="#2e2e2e" textLength="345.0" lengthAdjust="spacingAndGlyphs">miếng đệm và một miếng đệm nỉ như trong sơ đồ</text>
<rect x="862" y="1232" width="149" height="34" fill="#fff"/>
<text x="863.0" y="1258.0" font-size="17.0" fill="#2e2e2e" textLength="127.0" lengthAdjust="spacingAndGlyphs">Umida/ Wet/Ướt</text>
<rect x="870" y="1674" width="170.5" height="38" fill="#cdd1d7"/>
<text x="870.0" y="1690.0" font-size="17.0" fill="#2e2e2e" textLength="115.0" lengthAdjust="spacingAndGlyphs">Se ca/ Dry/Khô</text>
<g stroke="#3a3a3a" stroke-width="2.6" fill="none"><path d="M894.4 1290 V1660"/><path d="M893 1283 H1073"/><path d="M893 1667 H1072"/></g>
<path d="M894.4 1282 L889 1298 L899.8 1298 Z" fill="#3a3a3a"/><path d="M894.4 1665 L889 1650 L899.8 1650 Z" fill="#3a3a3a"/>
<text x="900.5" y="1428.0" font-size="20.0" fill="#6a6e73" textLength="41.5" lengthAdjust="spacingAndGlyphs" font-weight="bold">Rid.3</text>
<text x="900.5" y="1515.0" font-size="20.0" fill="#6a6e73" textLength="39.5" lengthAdjust="spacingAndGlyphs" font-weight="bold">Rid.1</text>
<text x="900.5" y="1604.6" font-size="20.0" fill="#6a6e73" textLength="39.5" lengthAdjust="spacingAndGlyphs" font-weight="bold">Rid.1</text>
<path d="M1030 1323.0 H1080 Q1090 1323.0 1090 1338.0 Q1090 1352.0 1080 1352.0 H1030 Z" fill="#e9edf0" stroke="#3d3d3d" stroke-width="2"/><path d="M1072 1324.0 H1080 Q1089 1324.0 1089 1338.0 Q1089 1351.0 1080 1351.0 H1072 Z" fill="#8c8c8c"/><rect x="1071" y="1340.0" width="9" height="2.5" fill="#f4f4f4"/><path d="M979 1307.5 L1018 1311.0 Q1033 1318.0 1034 1339.0 Q1033 1360.0 1018 1365.0 L981 1367.5 Z" fill="#e6eaee" stroke="#3d3d3d" stroke-width="2.2"/><path d="M1002 1318.0 H1021" stroke="#555" stroke-width="2.6" stroke-linecap="round"/><path d="M1002 1324.5 H1021" stroke="#555" stroke-width="2.6" stroke-linecap="round"/><path d="M1002 1333.5 H1021" stroke="#555" stroke-width="2.6" stroke-linecap="round"/><path d="M1002 1342.5 H1021" stroke="#555" stroke-width="2.6" stroke-linecap="round"/><path d="M1002 1351.5 H1021" stroke="#555" stroke-width="2.6" stroke-linecap="round"/><path d="M1002 1358.0 H1021" stroke="#555" stroke-width="2.6" stroke-linecap="round"/><ellipse cx="982.6" cy="1338.0" rx="17.7" ry="30.4" fill="#e6eaee" stroke="#3d3d3d" stroke-width="2.6" stroke-dasharray="3 1.6"/><ellipse cx="983.5" cy="1338.0" rx="15" ry="26" fill="#f0f2f4" stroke="#3d3d3d" stroke-width="2"/><ellipse cx="983.5" cy="1338.0" rx="11.5" ry="22.5" fill="#9a9a9a" stroke="#555" stroke-width="1.5"/><path d="M972.5 1335.0 A11.5 22.5 0 0 1 994.5 1335.0 Z" fill="#c9cccf"/><rect x="973" y="1332.0" width="21" height="3" fill="#f6f6f6"/>
<ellipse cx="1103.8" cy="1338.0" rx="8.7" ry="11.8" fill="#e4e8ec" stroke="#3d3d3d" stroke-width="2.2"/><path d="M1105.8 1327.2 A7.7 10.8 0 0 1 1105.8 1348.8" fill="none" stroke="#777" stroke-width="1.2"/>
<ellipse cx="1128.3" cy="1338.0" rx="8.7" ry="11.8" fill="#e4e8ec" stroke="#3d3d3d" stroke-width="2.2"/><path d="M1130.3 1327.2 A7.7 10.8 0 0 1 1130.3 1348.8" fill="none" stroke="#777" stroke-width="1.2"/>
<ellipse cx="1149.3" cy="1338.0" rx="8.7" ry="11.8" fill="#e4e8ec" stroke="#3d3d3d" stroke-width="2.2"/><path d="M1151.3 1327.2 A7.7 10.8 0 0 1 1151.3 1348.8" fill="none" stroke="#777" stroke-width="1.2"/>
<ellipse cx="1170.3" cy="1338.0" rx="8.7" ry="11.8" fill="#e4e8ec" stroke="#3d3d3d" stroke-width="2.2"/><path d="M1172.3 1327.2 A7.7 10.8 0 0 1 1172.3 1348.8" fill="none" stroke="#777" stroke-width="1.2"/>
<ellipse cx="1200.3" cy="1338.0" rx="10" ry="14.3" fill="#dde1e5" stroke="#3d3d3d" stroke-width="2.2"/><ellipse cx="1200.3" cy="1338.0" rx="6" ry="9.5" fill="none" stroke="#777" stroke-width="1.3"/><ellipse cx="1200.3" cy="1338.0" rx="3" ry="6.5" fill="#fff" stroke="#3d3d3d" stroke-width="1.8"/>
<path d="M1225.8 1324.5 L1238.3 1326.5 L1249.8 1338.0 L1244.3 1342.5 L1249.3 1347.0 L1238.3 1351.5 L1228.8 1352.5 Z" fill="#e8ebee" stroke="#3d3d3d" stroke-width="2"/><ellipse cx="1225.8" cy="1338.0" rx="8" ry="14.3" fill="#c8cbce" stroke="#3d3d3d" stroke-width="2.2"/><ellipse cx="1225.8" cy="1338.0" rx="4.5" ry="9" fill="#888" stroke="#555" stroke-width="1.2"/>
<path d="M1274.6 1313.0 L1299.6 1315.7 L1309.6 1322.0 Q1316.1 1330.0 1316.1 1338.0 Q1316.1 1350.0 1309.6 1356.0 L1299.6 1360.0 L1278.6 1363.0 Z" fill="#e4e8ec" stroke="#3d3d3d" stroke-width="2.2"/><path d="M1293.6 1317.0 V1359.0" stroke="#555" stroke-width="1.8"/><path d="M1295.6 1327.0 L1309.6 1325.0 M1295.6 1347.0 L1309.6 1349.0" stroke="#666" stroke-width="1.6"/><path d="M1309.6 1323.0 V1333.0 M1309.6 1344.0 V1355.0" stroke="#777" stroke-width="1.2"/><ellipse cx="1278.6" cy="1338.0" rx="16.9" ry="24.9" fill="#d6d9dc" stroke="#3d3d3d" stroke-width="2.6"/><ellipse cx="1278.6" cy="1338.0" rx="13" ry="21" fill="none" stroke="#555" stroke-width="2" stroke-dasharray="1.6 2.4"/><ellipse cx="1277.6" cy="1338.0" rx="8.5" ry="18" fill="#a2a2a2" stroke="#555" stroke-width="1.3"/><rect x="1270.6" y="1330.0" width="14" height="3" fill="#f2f2f2"/>
<path d="M1030 1403.0 H1080 Q1090 1403.0 1090 1418.0 Q1090 1432.0 1080 1432.0 H1030 Z" fill="#e9edf0" stroke="#3d3d3d" stroke-width="2"/><path d="M1072 1404.0 H1080 Q1089 1404.0 1089 1418.0 Q1089 1431.0 1080 1431.0 H1072 Z" fill="#8c8c8c"/><rect x="1071" y="1420.0" width="9" height="2.5" fill="#f4f4f4"/><path d="M979 1387.5 L1018 1391.0 Q1033 1398.0 1034 1419.0 Q1033 1440.0 1018 1445.0 L981 1447.5 Z" fill="#e6eaee" stroke="#3d3d3d" stroke-width="2.2"/><path d="M1002 1398.0 H1021" stroke="#555" stroke-width="2.6" stroke-linecap="round"/><path d="M1002 1404.5 H1021" stroke="#555" stroke-width="2.6" stroke-linecap="round"/><path d="M1002 1413.5 H1021" stroke="#555" stroke-width="2.6" stroke-linecap="round"/><path d="M1002 1422.5 H1021" stroke="#555" stroke-width="2.6" stroke-linecap="round"/><path d="M1002 1431.5 H1021" stroke="#555" stroke-width="2.6" stroke-linecap="round"/><path d="M1002 1438.0 H1021" stroke="#555" stroke-width="2.6" stroke-linecap="round"/><ellipse cx="982.6" cy="1418.0" rx="17.7" ry="30.4" fill="#e6eaee" stroke="#3d3d3d" stroke-width="2.6" stroke-dasharray="3 1.6"/><ellipse cx="983.5" cy="1418.0" rx="15" ry="26" fill="#f0f2f4" stroke="#3d3d3d" stroke-width="2"/><ellipse cx="983.5" cy="1418.0" rx="11.5" ry="22.5" fill="#9a9a9a" stroke="#555" stroke-width="1.5"/><path d="M972.5 1415.0 A11.5 22.5 0 0 1 994.5 1415.0 Z" fill="#c9cccf"/><rect x="973" y="1412.0" width="21" height="3" fill="#f6f6f6"/>
<ellipse cx="1103.8" cy="1418.0" rx="8.7" ry="11.8" fill="#eef0f2" stroke="#3d3d3d" stroke-width="2.2"/><ellipse cx="1103.8" cy="1418.0" rx="3" ry="5" fill="none" stroke="#555" stroke-width="1.6"/>
<ellipse cx="1128.3" cy="1418.0" rx="8.7" ry="11.8" fill="#e4e8ec" stroke="#3d3d3d" stroke-width="2.2"/><path d="M1130.3 1407.2 A7.7 10.8 0 0 1 1130.3 1428.8" fill="none" stroke="#777" stroke-width="1.2"/>
<ellipse cx="1149.3" cy="1418.0" rx="8.7" ry="11.8" fill="#e4e8ec" stroke="#3d3d3d" stroke-width="2.2"/><path d="M1151.3 1407.2 A7.7 10.8 0 0 1 1151.3 1428.8" fill="none" stroke="#777" stroke-width="1.2"/>
<ellipse cx="1170.3" cy="1418.0" rx="8.7" ry="11.8" fill="#e4e8ec" stroke="#3d3d3d" stroke-width="2.2"/><path d="M1172.3 1407.2 A7.7 10.8 0 0 1 1172.3 1428.8" fill="none" stroke="#777" stroke-width="1.2"/>
<ellipse cx="1200.3" cy="1418.0" rx="10" ry="14.3" fill="#dde1e5" stroke="#3d3d3d" stroke-width="2.2"/><ellipse cx="1200.3" cy="1418.0" rx="6" ry="9.5" fill="none" stroke="#777" stroke-width="1.3"/><ellipse cx="1200.3" cy="1418.0" rx="3" ry="6.5" fill="#fff" stroke="#3d3d3d" stroke-width="1.8"/>
<path d="M1225.8 1404.5 L1238.3 1406.5 L1249.8 1418.0 L1244.3 1422.5 L1249.3 1427.0 L1238.3 1431.5 L1228.8 1432.5 Z" fill="#e8ebee" stroke="#3d3d3d" stroke-width="2"/><ellipse cx="1225.8" cy="1418.0" rx="8" ry="14.3" fill="#c8cbce" stroke="#3d3d3d" stroke-width="2.2"/><ellipse cx="1225.8" cy="1418.0" rx="4.5" ry="9" fill="#888" stroke="#555" stroke-width="1.2"/>
<path d="M1274.6 1393.0 L1299.6 1395.7 L1309.6 1402.0 Q1316.1 1410.0 1316.1 1418.0 Q1316.1 1430.0 1309.6 1436.0 L1299.6 1440.0 L1278.6 1443.0 Z" fill="#e4e8ec" stroke="#3d3d3d" stroke-width="2.2"/><path d="M1293.6 1397.0 V1439.0" stroke="#555" stroke-width="1.8"/><path d="M1295.6 1407.0 L1309.6 1405.0 M1295.6 1427.0 L1309.6 1429.0" stroke="#666" stroke-width="1.6"/><path d="M1309.6 1403.0 V1413.0 M1309.6 1424.0 V1435.0" stroke="#777" stroke-width="1.2"/><ellipse cx="1278.6" cy="1418.0" rx="16.9" ry="24.9" fill="#d6d9dc" stroke="#3d3d3d" stroke-width="2.6"/><ellipse cx="1278.6" cy="1418.0" rx="13" ry="21" fill="none" stroke="#555" stroke-width="2" stroke-dasharray="1.6 2.4"/><ellipse cx="1277.6" cy="1418.0" rx="8.5" ry="18" fill="#a2a2a2" stroke="#555" stroke-width="1.3"/><rect x="1270.6" y="1410.0" width="14" height="3" fill="#f2f2f2"/>
<path d="M1103.5 1432.0 V1449.0 H1108.5" fill="none" stroke="#666" stroke-width="1.3"/><text x="1109.5" y="1452.0" font-size="7.5" fill="#777" textLength="62.0" lengthAdjust="spacingAndGlyphs" font-weight="bold">distanziale bianco</text><text x="1109.5" y="1464.0" font-size="7.5" fill="#777" textLength="42.0" lengthAdjust="spacingAndGlyphs" font-weight="bold">white spacer</text>
<path d="M1030 1487.5 H1080 Q1090 1487.5 1090 1502.5 Q1090 1516.5 1080 1516.5 H1030 Z" fill="#e9edf0" stroke="#3d3d3d" stroke-width="2"/><path d="M1072 1488.5 H1080 Q1089 1488.5 1089 1502.5 Q1089 1515.5 1080 1515.5 H1072 Z" fill="#8c8c8c"/><rect x="1071" y="1504.5" width="9" height="2.5" fill="#f4f4f4"/><path d="M979 1472.0 L1018 1475.5 Q1033 1482.5 1034 1503.5 Q1033 1524.5 1018 1529.5 L981 1532.0 Z" fill="#e6eaee" stroke="#3d3d3d" stroke-width="2.2"/><path d="M1002 1482.5 H1021" stroke="#555" stroke-width="2.6" stroke-linecap="round"/><path d="M1002 1489.0 H1021" stroke="#555" stroke-width="2.6" stroke-linecap="round"/><path d="M1002 1498.0 H1021" stroke="#555" stroke-width="2.6" stroke-linecap="round"/><path d="M1002 1507.0 H1021" stroke="#555" stroke-width="2.6" stroke-linecap="round"/><path d="M1002 1516.0 H1021" stroke="#555" stroke-width="2.6" stroke-linecap="round"/><path d="M1002 1522.5 H1021" stroke="#555" stroke-width="2.6" stroke-linecap="round"/><ellipse cx="982.6" cy="1502.5" rx="17.7" ry="30.4" fill="#e6eaee" stroke="#3d3d3d" stroke-width="2.6" stroke-dasharray="3 1.6"/><ellipse cx="983.5" cy="1502.5" rx="15" ry="26" fill="#f0f2f4" stroke="#3d3d3d" stroke-width="2"/><ellipse cx="983.5" cy="1502.5" rx="11.5" ry="22.5" fill="#9a9a9a" stroke="#555" stroke-width="1.5"/><path d="M972.5 1499.5 A11.5 22.5 0 0 1 994.5 1499.5 Z" fill="#c9cccf"/><rect x="973" y="1496.5" width="21" height="3" fill="#f6f6f6"/>
<path d="M1103 1489.5 H1116 Q1124.5 1489.5 1124.5 1502.5 Q1124.5 1515.5 1116 1515.5 H1103 Z" fill="#eef0f2" stroke="#3d3d3d" stroke-width="2"/>
<ellipse cx="1103" cy="1502.5" rx="8.2" ry="13" fill="#eef0f2" stroke="#3d3d3d" stroke-width="2.2"/><ellipse cx="1103.4" cy="1502.5" rx="2.5" ry="4" fill="none" stroke="#555" stroke-width="1.8"/><ellipse cx="1117" cy="1502.5" rx="2.5" ry="5" fill="none" stroke="#999" stroke-width="1.2"/>
<ellipse cx="1139.8" cy="1502.5" rx="8.7" ry="12.0" fill="#e4e8ec" stroke="#3d3d3d" stroke-width="2.2"/><path d="M1141.8 1491.5 A7.7 11.0 0 0 1 1141.8 1513.5" fill="none" stroke="#777" stroke-width="1.2"/>
<ellipse cx="1161.3" cy="1502.5" rx="8.7" ry="12.0" fill="#e4e8ec" stroke="#3d3d3d" stroke-width="2.2"/><path d="M1163.3 1491.5 A7.7 11.0 0 0 1 1163.3 1513.5" fill="none" stroke="#777" stroke-width="1.2"/>
<ellipse cx="1190.2" cy="1502.5" rx="10" ry="14.3" fill="#dde1e5" stroke="#3d3d3d" stroke-width="2.2"/><ellipse cx="1190.2" cy="1502.5" rx="6" ry="9.5" fill="none" stroke="#777" stroke-width="1.3"/><ellipse cx="1190.2" cy="1502.5" rx="3" ry="6.5" fill="#fff" stroke="#3d3d3d" stroke-width="1.8"/>
<path d="M1218.0 1489.0 L1230.5 1491.0 L1242.0 1502.5 L1236.5 1507.0 L1241.5 1511.5 L1230.5 1516.0 L1221.0 1517.0 Z" fill="#e8ebee" stroke="#3d3d3d" stroke-width="2"/><ellipse cx="1218.0" cy="1502.5" rx="8" ry="14.3" fill="#c8cbce" stroke="#3d3d3d" stroke-width="2.2"/><ellipse cx="1218.0" cy="1502.5" rx="4.5" ry="9" fill="#888" stroke="#555" stroke-width="1.2"/>
<path d="M1265.3 1477.5 L1290.3 1480.2 L1300.3 1486.5 Q1306.8 1494.5 1306.8 1502.5 Q1306.8 1514.5 1300.3 1520.5 L1290.3 1524.5 L1269.3 1527.5 Z" fill="#e4e8ec" stroke="#3d3d3d" stroke-width="2.2"/><path d="M1284.3 1481.5 V1523.5" stroke="#555" stroke-width="1.8"/><path d="M1286.3 1491.5 L1300.3 1489.5 M1286.3 1511.5 L1300.3 1513.5" stroke="#666" stroke-width="1.6"/><path d="M1300.3 1487.5 V1497.5 M1300.3 1508.5 V1519.5" stroke="#777" stroke-width="1.2"/><ellipse cx="1269.3" cy="1502.5" rx="16.9" ry="24.9" fill="#d6d9dc" stroke="#3d3d3d" stroke-width="2.6"/><ellipse cx="1269.3" cy="1502.5" rx="13" ry="21" fill="none" stroke="#555" stroke-width="2" stroke-dasharray="1.6 2.4"/><ellipse cx="1268.3" cy="1502.5" rx="8.5" ry="18" fill="#a2a2a2" stroke="#555" stroke-width="1.3"/><rect x="1261.3" y="1494.5" width="14" height="3" fill="#f2f2f2"/>
<path d="M1103.5 1522.0 V1539.0 H1108.5" fill="none" stroke="#666" stroke-width="1.3"/><text x="1109.5" y="1542.0" font-size="7.5" fill="#777" textLength="78.0" lengthAdjust="spacingAndGlyphs" font-weight="bold">distanziale trasparente</text><text x="1109.5" y="1554.0" font-size="7.5" fill="#777" textLength="55.0" lengthAdjust="spacingAndGlyphs" font-weight="bold">nat. clear spacer</text>
<path d="M1030 1580.5 H1080 Q1090 1580.5 1090 1595.5 Q1090 1609.5 1080 1609.5 H1030 Z" fill="#e9edf0" stroke="#3d3d3d" stroke-width="2"/><path d="M1072 1581.5 H1080 Q1089 1581.5 1089 1595.5 Q1089 1608.5 1080 1608.5 H1072 Z" fill="#8c8c8c"/><rect x="1071" y="1597.5" width="9" height="2.5" fill="#f4f4f4"/><path d="M979 1565.0 L1018 1568.5 Q1033 1575.5 1034 1596.5 Q1033 1617.5 1018 1622.5 L981 1625.0 Z" fill="#e6eaee" stroke="#3d3d3d" stroke-width="2.2"/><path d="M1002 1575.5 H1021" stroke="#555" stroke-width="2.6" stroke-linecap="round"/><path d="M1002 1582.0 H1021" stroke="#555" stroke-width="2.6" stroke-linecap="round"/><path d="M1002 1591.0 H1021" stroke="#555" stroke-width="2.6" stroke-linecap="round"/><path d="M1002 1600.0 H1021" stroke="#555" stroke-width="2.6" stroke-linecap="round"/><path d="M1002 1609.0 H1021" stroke="#555" stroke-width="2.6" stroke-linecap="round"/><path d="M1002 1615.5 H1021" stroke="#555" stroke-width="2.6" stroke-linecap="round"/><ellipse cx="982.6" cy="1595.5" rx="17.7" ry="30.4" fill="#e6eaee" stroke="#3d3d3d" stroke-width="2.6" stroke-dasharray="3 1.6"/><ellipse cx="983.5" cy="1595.5" rx="15" ry="26" fill="#f0f2f4" stroke="#3d3d3d" stroke-width="2"/><ellipse cx="983.5" cy="1595.5" rx="11.5" ry="22.5" fill="#9a9a9a" stroke="#555" stroke-width="1.5"/><path d="M972.5 1592.5 A11.5 22.5 0 0 1 994.5 1592.5 Z" fill="#c9cccf"/><rect x="973" y="1589.5" width="21" height="3" fill="#f6f6f6"/>
<path d="M1103 1581.0 H1129 Q1137 1581.0 1137 1595.5 Q1137 1610.0 1129 1610.0 H1103 Z" fill="#8e8e8e" stroke="#3d3d3d" stroke-width="2"/>
<ellipse cx="1104" cy="1595.5" rx="9.4" ry="14.5" fill="#9a9a9a" stroke="#3d3d3d" stroke-width="2.2"/><ellipse cx="1104" cy="1595.5" rx="4" ry="6" fill="#c8c8c8" stroke="#666" stroke-width="1.2"/>
<ellipse cx="1150.3" cy="1595.5" rx="8.7" ry="11.7" fill="#e4e8ec" stroke="#3d3d3d" stroke-width="2.2"/><path d="M1152.3 1584.8 A7.7 10.7 0 0 1 1152.3 1606.2" fill="none" stroke="#777" stroke-width="1.2"/>
<ellipse cx="1179.2" cy="1595.5" rx="10" ry="14.3" fill="#dde1e5" stroke="#3d3d3d" stroke-width="2.2"/><ellipse cx="1179.2" cy="1595.5" rx="6" ry="9.5" fill="none" stroke="#777" stroke-width="1.3"/><ellipse cx="1179.2" cy="1595.5" rx="3" ry="6.5" fill="#fff" stroke="#3d3d3d" stroke-width="1.8"/>
<path d="M1207.8 1582.0 L1220.3 1584.0 L1231.8 1595.5 L1226.3 1600.0 L1231.3 1604.5 L1220.3 1609.0 L1210.8 1610.0 Z" fill="#e8ebee" stroke="#3d3d3d" stroke-width="2"/><ellipse cx="1207.8" cy="1595.5" rx="8" ry="14.3" fill="#c8cbce" stroke="#3d3d3d" stroke-width="2.2"/><ellipse cx="1207.8" cy="1595.5" rx="4.5" ry="9" fill="#888" stroke="#555" stroke-width="1.2"/>
<path d="M1255.1 1570.5 L1280.1 1573.2 L1290.1 1579.5 Q1296.6 1587.5 1296.6 1595.5 Q1296.6 1607.5 1290.1 1613.5 L1280.1 1617.5 L1259.1 1620.5 Z" fill="#e4e8ec" stroke="#3d3d3d" stroke-width="2.2"/><path d="M1274.1 1574.5 V1616.5" stroke="#555" stroke-width="1.8"/><path d="M1276.1 1584.5 L1290.1 1582.5 M1276.1 1604.5 L1290.1 1606.5" stroke="#666" stroke-width="1.6"/><path d="M1290.1 1580.5 V1590.5 M1290.1 1601.5 V1612.5" stroke="#777" stroke-width="1.2"/><ellipse cx="1259.1" cy="1595.5" rx="16.9" ry="24.9" fill="#d6d9dc" stroke="#3d3d3d" stroke-width="2.6"/><ellipse cx="1259.1" cy="1595.5" rx="13" ry="21" fill="none" stroke="#555" stroke-width="2" stroke-dasharray="1.6 2.4"/><ellipse cx="1258.1" cy="1595.5" rx="8.5" ry="18" fill="#a2a2a2" stroke="#555" stroke-width="1.3"/><rect x="1251.1" y="1587.5" width="14" height="3" fill="#f2f2f2"/>
<path d="M1103.5 1615.0 V1632.0 H1108.5" fill="none" stroke="#666" stroke-width="1.3"/><text x="1109.5" y="1635.0" font-size="7.5" fill="#777" textLength="54.0" lengthAdjust="spacingAndGlyphs" font-weight="bold">distanziale nero</text><text x="1109.5" y="1647.0" font-size="7.5" fill="#777" textLength="42.0" lengthAdjust="spacingAndGlyphs" font-weight="bold">black spacer</text>
</svg>
</body></html>
